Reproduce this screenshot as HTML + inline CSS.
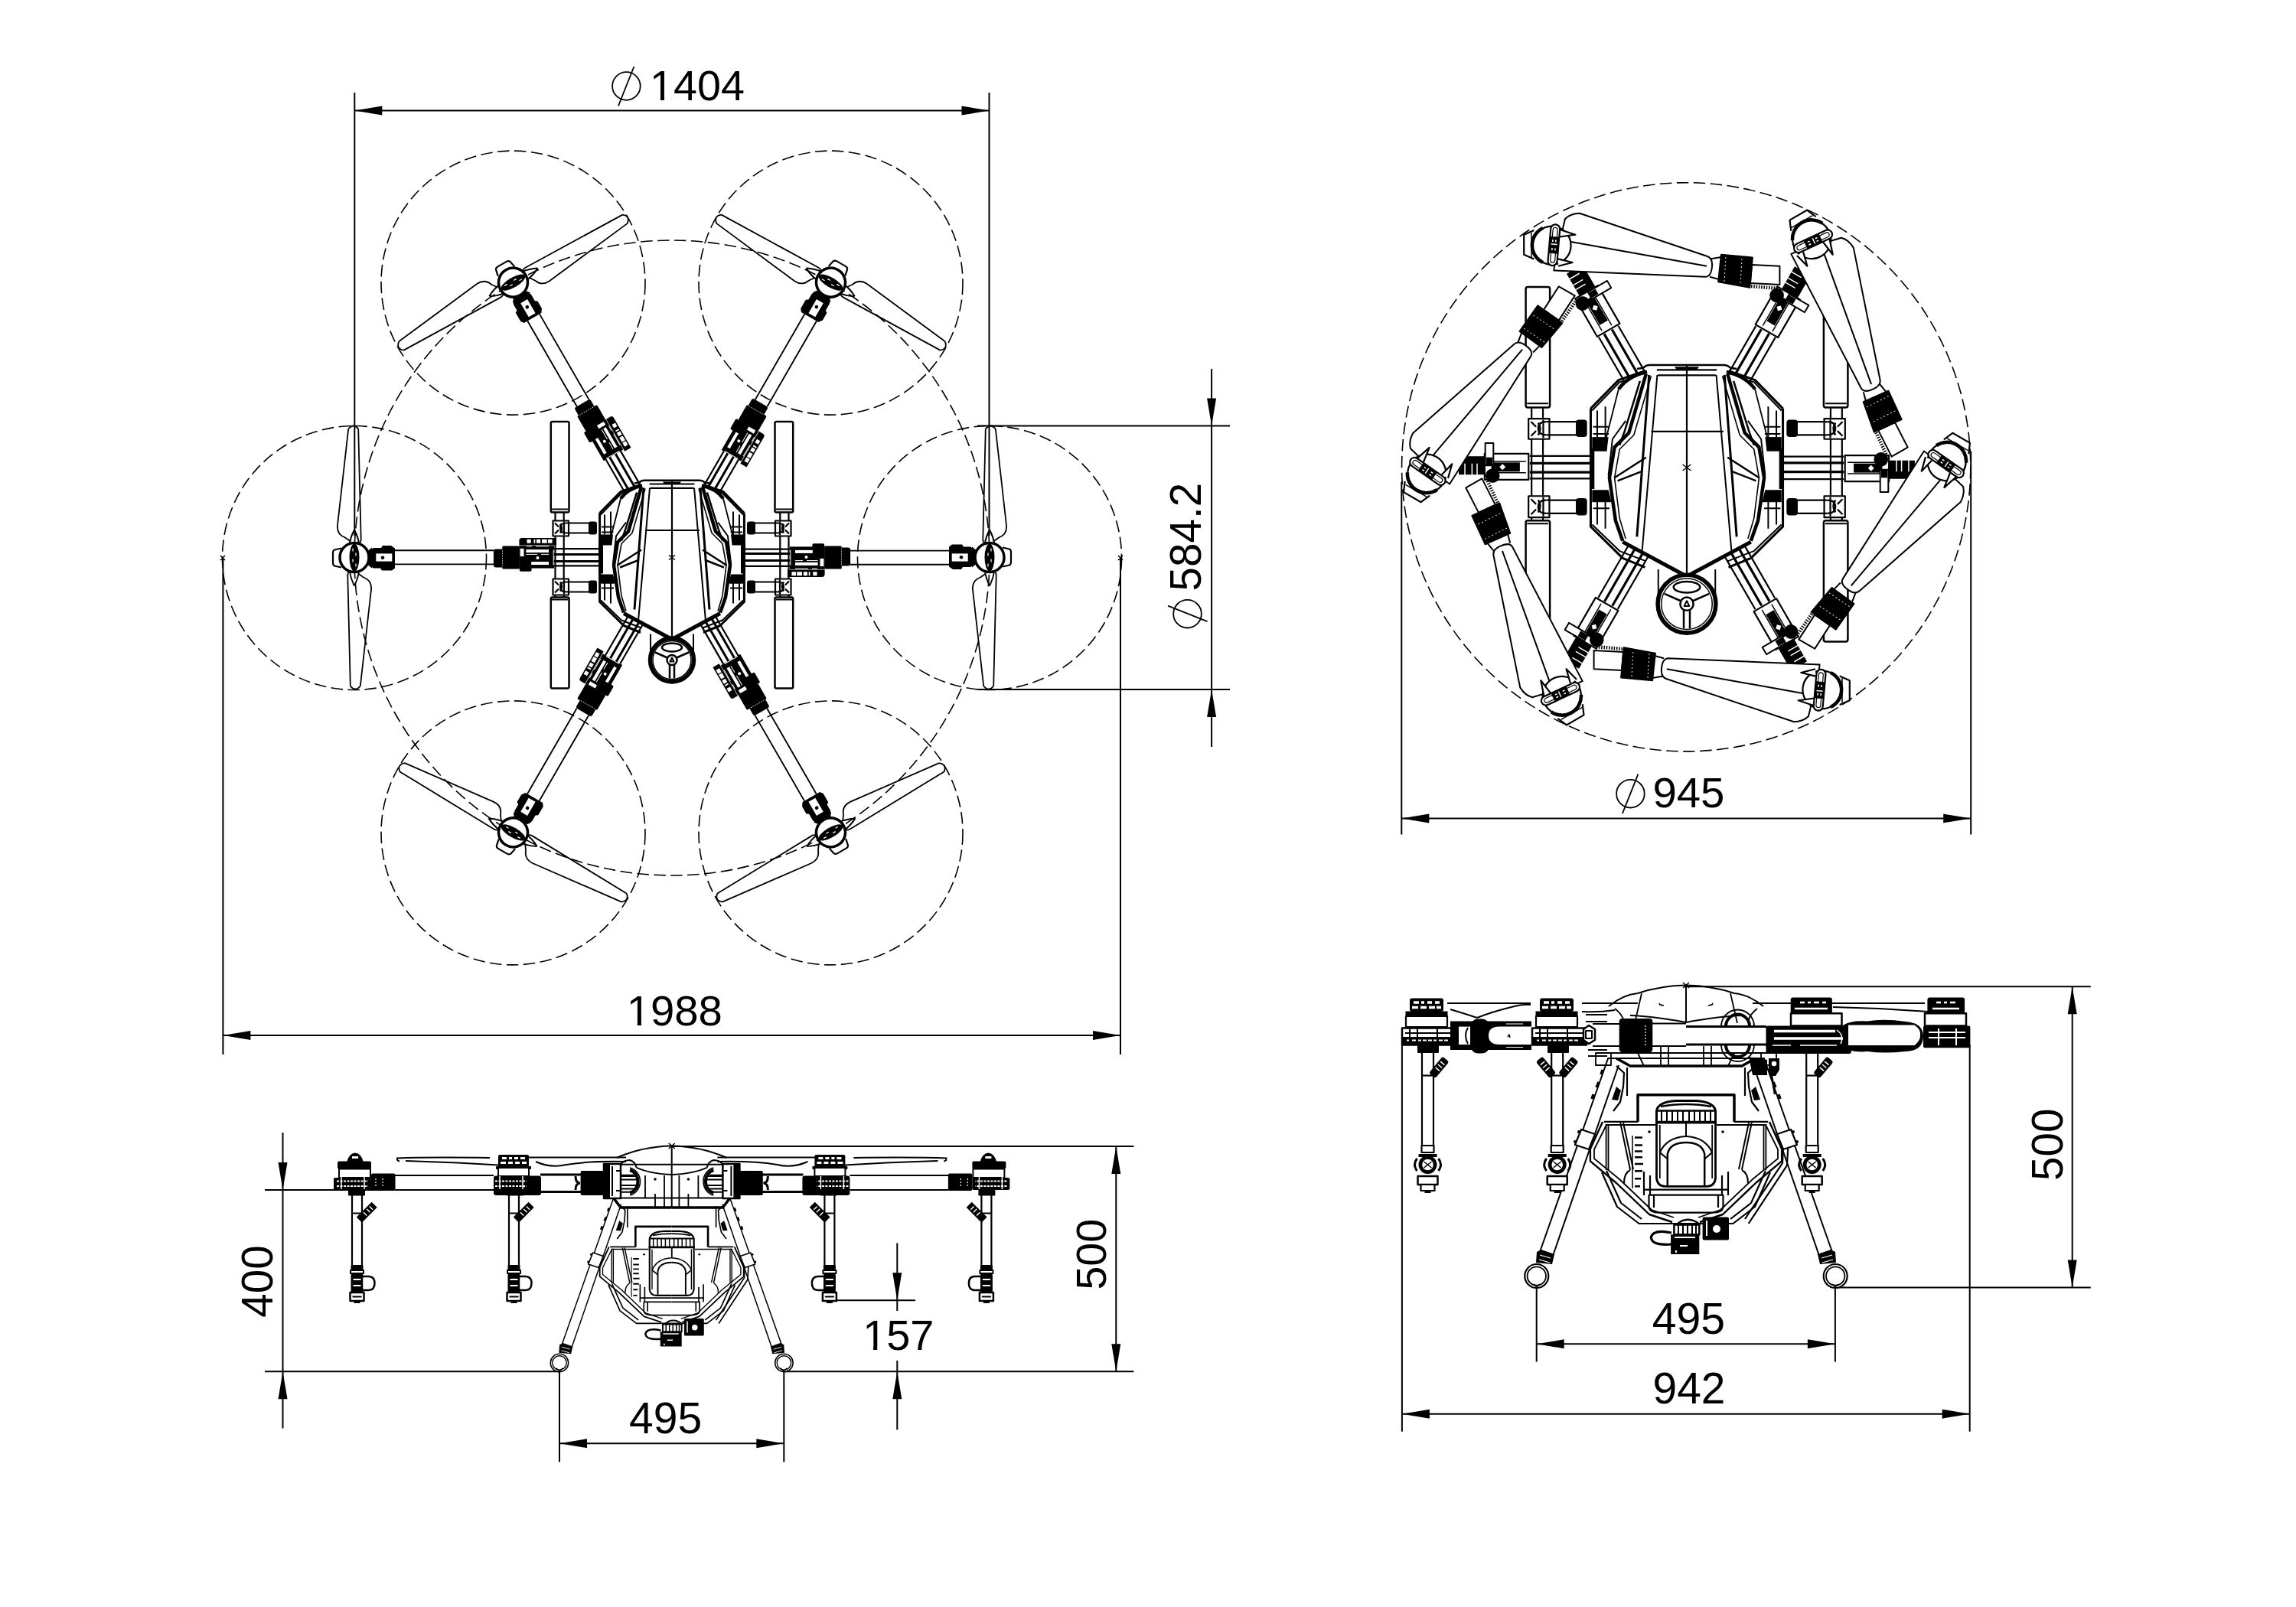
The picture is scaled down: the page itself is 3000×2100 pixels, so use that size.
<!DOCTYPE html>
<html><head><meta charset="utf-8"><style>
html,body{margin:0;padding:0;background:#fff;width:3000px;height:2100px;overflow:hidden}
svg{display:block}
</style></head><body>
<svg xmlns="http://www.w3.org/2000/svg" width="3000" height="2100" viewBox="0 0 3000 2100" font-family="Liberation Sans, sans-serif" stroke="#000" fill="none" stroke-linecap="butt" stroke-linejoin="round">
<rect x="0" y="0" width="3000" height="2100" fill="#fff" stroke="none"/>
<g fill="#000" stroke="none">
</g>
<line x1="463.3" y1="120.9" x2="463.3" y2="700.0" stroke-width="2"/>
<line x1="1292.5" y1="120.9" x2="1292.5" y2="700.0" stroke-width="2"/>
<line x1="463.3" y1="144.5" x2="1292.5" y2="144.5" stroke-width="2"/>
<polygon points="463.3,144.5 499.3,138.5 499.3,150.5" stroke="none" fill="#000"/>
<polygon points="1292.5,144.5 1256.5,150.5 1256.5,138.5" stroke="none" fill="#000"/>
<text fill="#000" stroke="none" x="849.0" y="130.7" font-size="55.7">1404</text><rect x="852.31" y="125.68" width="10.59" height="5.57" fill="#fff" stroke="none"/><rect x="867.96" y="125.68" width="9.75" height="5.57" fill="#fff" stroke="none"/>
<circle cx="818.4" cy="112.5" r="18.3" fill="none" stroke-width="1.8"/><line x1="828.4" y1="87.0" x2="807.9" y2="138.5" stroke-width="1.8"/>
<line x1="291.4" y1="729.0" x2="291.4" y2="1378.0" stroke-width="2"/>
<line x1="1464.0" y1="729.0" x2="1464.0" y2="1378.0" stroke-width="2"/>
<line x1="291.4" y1="1353.0" x2="1464.0" y2="1353.0" stroke-width="2"/>
<polygon points="291.4,1353.0 327.4,1347.0 327.4,1359.0" stroke="none" fill="#000"/>
<polygon points="1464.0,1353.0 1428.0,1359.0 1428.0,1347.0" stroke="none" fill="#000"/>
<text fill="#000" stroke="none" x="818.7" y="1340.0" font-size="56.3">1988</text><rect x="822.10" y="1334.92" width="10.70" height="5.63" fill="#fff" stroke="none"/><rect x="837.93" y="1334.92" width="9.86" height="5.63" fill="#fff" stroke="none"/>
<line x1="1277.0" y1="556.5" x2="1607.0" y2="556.5" stroke-width="2"/>
<line x1="1277.0" y1="901.0" x2="1607.0" y2="901.0" stroke-width="2"/>
<line x1="1583.1" y1="482.0" x2="1583.1" y2="976.0" stroke-width="2"/>
<polygon points="1583.1,556.5 1577.1,520.5 1589.1,520.5" stroke="none" fill="#000"/>
<polygon points="1583.1,901.0 1589.1,937.0 1577.1,937.0" stroke="none" fill="#000"/>
<text fill="#000" stroke="none" transform="translate(1569.2,772.4) rotate(-90)" x="0" y="0" font-size="56.6">584.2</text>
<circle cx="1551.5" cy="802.2" r="18.3" fill="none" stroke-width="1.8"/><line x1="1526.0" y1="791.7" x2="1577.5" y2="812.2" stroke-width="1.8"/>
<line x1="1831.3" y1="629.7" x2="1831.3" y2="1090.5" stroke-width="2"/>
<line x1="2575.2" y1="589.8" x2="2575.2" y2="1090.5" stroke-width="2"/>
<line x1="1831.3" y1="1069.5" x2="2575.2" y2="1069.5" stroke-width="2"/>
<polygon points="1831.3,1069.5 1867.3,1063.5 1867.3,1075.5" stroke="none" fill="#000"/>
<polygon points="2575.2,1069.5 2539.2,1075.5 2539.2,1063.5" stroke="none" fill="#000"/>
<text fill="#000" stroke="none" x="2159.4" y="1054.8" font-size="56.4">945</text>
<circle cx="2130.4" cy="1037.2" r="18.3" fill="none" stroke-width="1.8"/><line x1="2140.4" y1="1011.7" x2="2119.9" y2="1063.2" stroke-width="1.8"/>
<line x1="877.0" y1="1497.9" x2="1481.4" y2="1497.9" stroke-width="2"/>
<line x1="346.0" y1="1555.0" x2="512.0" y2="1555.0" stroke-width="2"/>
<line x1="346.0" y1="1792.2" x2="731.0" y2="1792.2" stroke-width="2"/>
<line x1="1024.3" y1="1792.2" x2="1481.4" y2="1792.2" stroke-width="2"/>
<line x1="369.5" y1="1480.0" x2="369.5" y2="1866.5" stroke-width="2"/>
<polygon points="369.5,1555.0 363.5,1519.0 375.5,1519.0" stroke="none" fill="#000"/>
<polygon points="369.5,1792.2 375.5,1828.2 363.5,1828.2" stroke="none" fill="#000"/>
<text fill="#000" stroke="none" transform="translate(355.5,1721.7) rotate(-90)" x="0" y="0" font-size="56.7">400</text>
<line x1="1458.3" y1="1497.9" x2="1458.3" y2="1792.2" stroke-width="2"/>
<polygon points="1458.3,1497.9 1464.3,1533.9 1452.3,1533.9" stroke="none" fill="#000"/>
<polygon points="1458.3,1792.2 1452.3,1756.2 1464.3,1756.2" stroke="none" fill="#000"/>
<text fill="#000" stroke="none" transform="translate(1445.4,1685.6) rotate(-90)" x="0" y="0" font-size="55.7">500</text>
<line x1="1084.0" y1="1699.2" x2="1196.0" y2="1699.2" stroke-width="2"/>
<line x1="1172.3" y1="1624.4" x2="1172.3" y2="1713.0" stroke-width="2"/>
<line x1="1172.3" y1="1778.0" x2="1172.3" y2="1868.3" stroke-width="2"/>
<polygon points="1172.3,1699.2 1166.3,1663.2 1178.3,1663.2" stroke="none" fill="#000"/>
<polygon points="1172.3,1792.2 1178.3,1828.2 1166.3,1828.2" stroke="none" fill="#000"/>
<text fill="#000" stroke="none" x="1127.2" y="1764.0" font-size="55.9">157</text><rect x="1130.51" y="1758.97" width="10.62" height="5.59" fill="#fff" stroke="none"/><rect x="1146.21" y="1758.97" width="9.78" height="5.59" fill="#fff" stroke="none"/>
<line x1="731.0" y1="1792.8" x2="731.0" y2="1910.6" stroke-width="2"/>
<line x1="1024.3" y1="1792.8" x2="1024.3" y2="1910.6" stroke-width="2"/>
<line x1="731.0" y1="1886.2" x2="1024.3" y2="1886.2" stroke-width="2"/>
<polygon points="731.0,1886.2 767.0,1880.2 767.0,1892.2" stroke="none" fill="#000"/>
<polygon points="1024.3,1886.2 988.3,1892.2 988.3,1880.2" stroke="none" fill="#000"/>
<text fill="#000" stroke="none" x="822.1" y="1872.7" font-size="57.0">495</text>
<line x1="2201.0" y1="1289.3" x2="2731.8" y2="1289.3" stroke-width="2"/>
<line x1="2397.9" y1="1682.5" x2="2731.8" y2="1682.5" stroke-width="2"/>
<line x1="2707.7" y1="1289.3" x2="2707.7" y2="1682.5" stroke-width="2"/>
<polygon points="2707.7,1289.3 2713.7,1325.3 2701.7,1325.3" stroke="none" fill="#000"/>
<polygon points="2707.7,1682.5 2701.7,1646.5 2713.7,1646.5" stroke="none" fill="#000"/>
<text fill="#000" stroke="none" transform="translate(2694.6,1542.9) rotate(-90)" x="0" y="0" font-size="56.5">500</text>
<line x1="2007.7" y1="1668.0" x2="2007.7" y2="1779.6" stroke-width="2"/>
<line x1="2397.9" y1="1668.0" x2="2397.9" y2="1779.6" stroke-width="2"/>
<line x1="2007.7" y1="1756.3" x2="2397.9" y2="1756.3" stroke-width="2"/>
<polygon points="2007.7,1756.3 2043.7,1750.3 2043.7,1762.3" stroke="none" fill="#000"/>
<polygon points="2397.9,1756.3 2361.9,1762.3 2361.9,1750.3" stroke="none" fill="#000"/>
<text fill="#000" stroke="none" x="2158.8" y="1742.9" font-size="57.1">495</text>
<line x1="1831.9" y1="1365.0" x2="1831.9" y2="1870.7" stroke-width="2"/>
<line x1="2573.7" y1="1365.0" x2="2573.7" y2="1870.7" stroke-width="2"/>
<line x1="1831.9" y1="1847.7" x2="2573.7" y2="1847.7" stroke-width="2"/>
<polygon points="1831.9,1847.7 1867.9,1841.7 1867.9,1853.7" stroke="none" fill="#000"/>
<polygon points="2573.7,1847.7 2537.7,1853.7 2537.7,1841.7" stroke="none" fill="#000"/>
<text fill="#000" stroke="none" x="2159.5" y="1833.9" font-size="56.9">942</text>
<circle cx="878.0" cy="729.0" r="415.0" stroke-dasharray="15.5 6.5" fill="none" stroke-width="1.6"/>
<circle cx="463.0" cy="729.0" r="172.5" stroke-dasharray="15.5 6.5" fill="none" stroke-width="1.6"/>
<circle cx="670.5" cy="369.6" r="172.5" stroke-dasharray="15.5 6.5" fill="none" stroke-width="1.6"/>
<circle cx="1085.5" cy="369.6" r="172.5" stroke-dasharray="15.5 6.5" fill="none" stroke-width="1.6"/>
<circle cx="1293.0" cy="729.0" r="172.5" stroke-dasharray="15.5 6.5" fill="none" stroke-width="1.6"/>
<circle cx="1085.5" cy="1088.4" r="172.5" stroke-dasharray="15.5 6.5" fill="none" stroke-width="1.6"/>
<circle cx="670.5" cy="1088.4" r="172.5" stroke-dasharray="15.5 6.5" fill="none" stroke-width="1.6"/>
<circle cx="2203.2" cy="610.3" r="371.6" stroke-dasharray="15.5 6.5" fill="none" stroke-width="1.6"/>
<g transform="translate(878.0,728.5)"><g transform="scale(-1,1)">
<rect x="-158.2" y="-177.5" width="23.7" height="118.5" rx="2" stroke-width="2.50"/>
<rect x="-158.2" y="52" width="23.7" height="119" rx="2" stroke-width="2.50"/>
<path d="M -157,-63 H -136 M -157,55 H -136" stroke-width="2.00"/>
<path d="M -152.5,-59 V 52 M -141.3,-59 V 52" stroke-width="2.20"/>
<rect x="-155.5" y="-48" width="20.5" height="20" fill="#fff" stroke-width="2.20"/>
<rect x="-155.5" y="28" width="20.5" height="21" fill="#fff" stroke-width="2.20"/>
<path d="M -153,-45 L -148,-40 M -153,-31 L -148,-36 M -153,31 L -148,36 M -153,46 L -148,41 M -141,-47 V -29 M -141,29 V 48" stroke-width="2.20"/>
<path d="M -146,-44 Q -142,-38 -146,-32 M -146,32 Q -142,38 -146,44" stroke-width="2.50"/>
<path d="M -138,-45 H -100 M -138,-32 H -100 M -138,32 H -100 M -138,45 H -100" stroke-width="2.20"/>
<path d="M -146,-38.5 Q -146,-45 -138,-45 M -146,38.5 Q -146,45 -138,45 M -146,-38.5 Q -146,-32 -138,-32 M -146,38.5 Q -146,32 -138,32" stroke-width="2.20"/>
<rect x="-109" y="-47" width="11" height="17" rx="3" fill="#000" stroke="none"/>
<rect x="-109" y="30" width="11" height="17" rx="3" fill="#000" stroke="none"/>
</g>
<g transform="scale(1,1)">
<rect x="-158.2" y="-177.5" width="23.7" height="118.5" rx="2" stroke-width="2.50"/>
<rect x="-158.2" y="52" width="23.7" height="119" rx="2" stroke-width="2.50"/>
<path d="M -157,-63 H -136 M -157,55 H -136" stroke-width="2.00"/>
<path d="M -152.5,-59 V 52 M -141.3,-59 V 52" stroke-width="2.20"/>
<rect x="-155.5" y="-48" width="20.5" height="20" fill="#fff" stroke-width="2.20"/>
<rect x="-155.5" y="28" width="20.5" height="21" fill="#fff" stroke-width="2.20"/>
<path d="M -153,-45 L -148,-40 M -153,-31 L -148,-36 M -153,31 L -148,36 M -153,46 L -148,41 M -141,-47 V -29 M -141,29 V 48" stroke-width="2.20"/>
<path d="M -146,-44 Q -142,-38 -146,-32 M -146,32 Q -142,38 -146,44" stroke-width="2.50"/>
<path d="M -138,-45 H -100 M -138,-32 H -100 M -138,32 H -100 M -138,45 H -100" stroke-width="2.20"/>
<path d="M -146,-38.5 Q -146,-45 -138,-45 M -146,38.5 Q -146,45 -138,45 M -146,-38.5 Q -146,-32 -138,-32 M -146,38.5 Q -146,32 -138,32" stroke-width="2.20"/>
<rect x="-109" y="-47" width="11" height="17" rx="3" fill="#000" stroke="none"/>
<rect x="-109" y="30" width="11" height="17" rx="3" fill="#000" stroke="none"/>
</g></g>
<g transform="translate(878.0,728.5) rotate(0)">
<path d="M -432,-12 L -441,-10 Q -443,-9 -443,-6 V 7 Q -443,10 -441,11 L -432,13" stroke-width="2.2" fill="#fff"/>
<circle cx="-415" cy="0" r="19" stroke-width="3.5" fill="none"/>
<path d="M -397,-9 L -392,-13 V 14 L -397,10 Z" fill="#000" stroke="none"/>
<path d="M -396,-9 L -390,-12.5 L -380,-12.5 L -378,-15.5 L -367,-15.5 L -362,-12 L -362,14 L -366,17 L -379,17 L -381,14 L -390,14 L -396,10 Z" fill="#000" stroke="none"/>
<rect x="-386.7" y="-5.1" width="21" height="10.2" fill="#fff" stroke="none"/>
<circle cx="-378" cy="0.2" r="2.3" fill="#000" stroke="none"/>
<path d="M -362,-9.2 H -233 M -362,8.9 H -233" stroke-width="1.9"/>
<path d="M -233.1,-8 Q -233.1,-10.9 -230,-10.9 H -221.8 V 13 H -230 Q -233.1,13 -233.1,10 Z" fill="#000" stroke="none"/>
<rect x="-221.8" y="-14.9" width="22.6" height="29.9" rx="1.5" fill="#000" stroke="none"/>
<path d="M -221.5,-9 V 11" stroke="#fff" stroke-width="0.8" stroke-dasharray="1.2 2"/>
<rect x="-199.6" y="-15.4" width="45.6" height="29.5" fill="#000" stroke="none"/>
<rect x="-199.2" y="12" width="15.8" height="6.3" rx="2" fill="#000" stroke="none"/>
<rect x="-198.4" y="-11.6" width="4.9" height="10.2" fill="#fff" stroke="none"/>
<rect x="-190.6" y="-10.4" width="29.6" height="4" fill="#fff" stroke="none"/>
<rect x="-183.8" y="5.6" width="22.8" height="4" fill="#fff" stroke="none"/>
<path d="M -190.6,-4.1 H -176 M -171,-4.1 H -161 M -190,-14.6 H -183 M -178,-14.6 H -161" stroke="#fff" stroke-width="1"/>
<circle cx="-175.5" cy="0.5" r="2" fill="#fff" stroke="none"/>
<path d="M -154.8,-10 V 10" stroke="#fff" stroke-width="1.1"/>
<path d="M -199.6,-16 V -22 Q -199.6,-25.4 -196,-25.4 H -151 V -16 Z" fill="#000" stroke="none"/>
<path d="M -189.5,-21.3 h5.2 M -180.5,-21.3 h1.8 M -177,-21.3 h5.2 M -170,-21.3 h6.8 M -162,-21.3 h5.6" stroke="#fff" stroke-width="5"/>
<path d="M -154.3,-11.4 H -96 M -154.3,10.8 H -96" stroke-width="2.2"/>
<path d="M -154.3,-3.9 H -96 M -154.3,5 H -96" stroke-width="3"/>
</g>
<g transform="translate(878.0,728.5) rotate(0)">
<g transform="translate(-415,0)" stroke-width="1.8"><path d="M 5.2,-168 L 8.7,-24 Q 9,-19 4,-17 M -7.8,-168 L -22,-42 Q -23,-30 -12,-26 L -5,-21 M -7.8,-168 Q -1,-176 5.2,-168 M -5.2,168 L -8.7,24 Q -9,19 -4,17 M 7.8,168 L 22,42 Q 23,30 12,26 L 5,21 M 7.8,168 Q 1,176 -5.2,168" stroke-width="1.8"/><path d="M 0,-36 Q 5,-27 6,-18 M 0,-36 Q -5,-27 -6,-18 M 0,37 Q 5,27 6,18 M 0,37 Q -5,27 -6,18" stroke-width="2"/><ellipse cx="0" cy="0" rx="6.5" ry="18" fill="#000" stroke="none"/><path d="M -2,-12 v4 M 2,-6 v4 M -2,2 v4 M 2,8 v4" stroke="#fff" stroke-width="1.2"/></g>
</g>
<g transform="translate(878.0,728.5) rotate(60)">
<path d="M -432,-12 L -441,-10 Q -443,-9 -443,-6 V 7 Q -443,10 -441,11 L -432,13" stroke-width="2.2" fill="#fff"/>
<circle cx="-415" cy="0" r="19" stroke-width="3.5" fill="none"/>
<path d="M -397,-9 L -392,-13 V 14 L -397,10 Z" fill="#000" stroke="none"/>
<path d="M -396,-9 L -390,-12.5 L -380,-12.5 L -378,-15.5 L -367,-15.5 L -362,-12 L -362,14 L -366,17 L -379,17 L -381,14 L -390,14 L -396,10 Z" fill="#000" stroke="none"/>
<rect x="-386.7" y="-5.1" width="21" height="10.2" fill="#fff" stroke="none"/>
<circle cx="-378" cy="0.2" r="2.3" fill="#000" stroke="none"/>
<path d="M -362,-9.2 H -233 M -362,8.9 H -233" stroke-width="1.9"/>
<path d="M -233.1,-8 Q -233.1,-10.9 -230,-10.9 H -221.8 V 13 H -230 Q -233.1,13 -233.1,10 Z" fill="#000" stroke="none"/>
<rect x="-221.8" y="-14.9" width="22.6" height="29.9" rx="1.5" fill="#000" stroke="none"/>
<path d="M -221.5,-9 V 11" stroke="#fff" stroke-width="0.8" stroke-dasharray="1.2 2"/>
<rect x="-199.6" y="-15.4" width="45.6" height="29.5" fill="#000" stroke="none"/>
<rect x="-199.2" y="12" width="15.8" height="6.3" rx="2" fill="#000" stroke="none"/>
<rect x="-198.4" y="-11.6" width="4.9" height="10.2" fill="#fff" stroke="none"/>
<rect x="-190.6" y="-10.4" width="29.6" height="4" fill="#fff" stroke="none"/>
<rect x="-183.8" y="5.6" width="22.8" height="4" fill="#fff" stroke="none"/>
<path d="M -190.6,-4.1 H -176 M -171,-4.1 H -161 M -190,-14.6 H -183 M -178,-14.6 H -161" stroke="#fff" stroke-width="1"/>
<circle cx="-175.5" cy="0.5" r="2" fill="#fff" stroke="none"/>
<path d="M -154.8,-10 V 10" stroke="#fff" stroke-width="1.1"/>
<path d="M -199.6,-16 V -22 Q -199.6,-25.4 -196,-25.4 H -151 V -16 Z" fill="#000" stroke="none"/>
<path d="M -189.5,-21.3 h5.2 M -180.5,-21.3 h1.8 M -177,-21.3 h5.2 M -170,-21.3 h6.8 M -162,-21.3 h5.6" stroke="#fff" stroke-width="5"/>
<path d="M -154.3,-11.4 H -96 M -154.3,10.8 H -96" stroke-width="2.2"/>
<path d="M -154.3,-3.9 H -96 M -154.3,5 H -96" stroke-width="3"/>
</g>
<g transform="translate(878.0,728.5) rotate(60)">
<g transform="translate(-415,0) scale(1,-1)" stroke-width="1.8"><path d="M 5.2,-168 L 8.7,-24 Q 9,-19 4,-17 M -7.8,-168 L -22,-42 Q -23,-30 -12,-26 L -5,-21 M -7.8,-168 Q -1,-176 5.2,-168 M -5.2,168 L -8.7,24 Q -9,19 -4,17 M 7.8,168 L 22,42 Q 23,30 12,26 L 5,21 M 7.8,168 Q 1,176 -5.2,168" stroke-width="1.8"/><path d="M 0,-36 Q 5,-27 6,-18 M 0,-36 Q -5,-27 -6,-18 M 0,37 Q 5,27 6,18 M 0,37 Q -5,27 -6,18" stroke-width="2"/><ellipse cx="0" cy="0" rx="6.5" ry="18" fill="#000" stroke="none"/><path d="M -2,-12 v4 M 2,-6 v4 M -2,2 v4 M 2,8 v4" stroke="#fff" stroke-width="1.2"/></g>
</g>
<g transform="translate(878.0,728.5) rotate(120)">
<path d="M -432,-12 L -441,-10 Q -443,-9 -443,-6 V 7 Q -443,10 -441,11 L -432,13" stroke-width="2.2" fill="#fff"/>
<circle cx="-415" cy="0" r="19" stroke-width="3.5" fill="none"/>
<path d="M -397,-9 L -392,-13 V 14 L -397,10 Z" fill="#000" stroke="none"/>
<path d="M -396,-9 L -390,-12.5 L -380,-12.5 L -378,-15.5 L -367,-15.5 L -362,-12 L -362,14 L -366,17 L -379,17 L -381,14 L -390,14 L -396,10 Z" fill="#000" stroke="none"/>
<rect x="-386.7" y="-5.1" width="21" height="10.2" fill="#fff" stroke="none"/>
<circle cx="-378" cy="0.2" r="2.3" fill="#000" stroke="none"/>
<path d="M -362,-9.2 H -233 M -362,8.9 H -233" stroke-width="1.9"/>
<path d="M -233.1,-8 Q -233.1,-10.9 -230,-10.9 H -221.8 V 13 H -230 Q -233.1,13 -233.1,10 Z" fill="#000" stroke="none"/>
<rect x="-221.8" y="-14.9" width="22.6" height="29.9" rx="1.5" fill="#000" stroke="none"/>
<path d="M -221.5,-9 V 11" stroke="#fff" stroke-width="0.8" stroke-dasharray="1.2 2"/>
<rect x="-199.6" y="-15.4" width="45.6" height="29.5" fill="#000" stroke="none"/>
<rect x="-199.2" y="12" width="15.8" height="6.3" rx="2" fill="#000" stroke="none"/>
<rect x="-198.4" y="-11.6" width="4.9" height="10.2" fill="#fff" stroke="none"/>
<rect x="-190.6" y="-10.4" width="29.6" height="4" fill="#fff" stroke="none"/>
<rect x="-183.8" y="5.6" width="22.8" height="4" fill="#fff" stroke="none"/>
<path d="M -190.6,-4.1 H -176 M -171,-4.1 H -161 M -190,-14.6 H -183 M -178,-14.6 H -161" stroke="#fff" stroke-width="1"/>
<circle cx="-175.5" cy="0.5" r="2" fill="#fff" stroke="none"/>
<path d="M -154.8,-10 V 10" stroke="#fff" stroke-width="1.1"/>
<path d="M -199.6,-16 V -22 Q -199.6,-25.4 -196,-25.4 H -151 V -16 Z" fill="#000" stroke="none"/>
<path d="M -189.5,-21.3 h5.2 M -180.5,-21.3 h1.8 M -177,-21.3 h5.2 M -170,-21.3 h6.8 M -162,-21.3 h5.6" stroke="#fff" stroke-width="5"/>
<path d="M -154.3,-11.4 H -96 M -154.3,10.8 H -96" stroke-width="2.2"/>
<path d="M -154.3,-3.9 H -96 M -154.3,5 H -96" stroke-width="3"/>
</g>
<g transform="translate(878.0,728.5) rotate(120)">
<g transform="translate(-415,0)" stroke-width="1.8"><path d="M 5.2,-168 L 8.7,-24 Q 9,-19 4,-17 M -7.8,-168 L -22,-42 Q -23,-30 -12,-26 L -5,-21 M -7.8,-168 Q -1,-176 5.2,-168 M -5.2,168 L -8.7,24 Q -9,19 -4,17 M 7.8,168 L 22,42 Q 23,30 12,26 L 5,21 M 7.8,168 Q 1,176 -5.2,168" stroke-width="1.8"/><path d="M 0,-36 Q 5,-27 6,-18 M 0,-36 Q -5,-27 -6,-18 M 0,37 Q 5,27 6,18 M 0,37 Q -5,27 -6,18" stroke-width="2"/><ellipse cx="0" cy="0" rx="6.5" ry="18" fill="#000" stroke="none"/><path d="M -2,-12 v4 M 2,-6 v4 M -2,2 v4 M 2,8 v4" stroke="#fff" stroke-width="1.2"/></g>
</g>
<g transform="translate(878.0,728.5) rotate(180)">
<path d="M -432,-12 L -441,-10 Q -443,-9 -443,-6 V 7 Q -443,10 -441,11 L -432,13" stroke-width="2.2" fill="#fff"/>
<circle cx="-415" cy="0" r="19" stroke-width="3.5" fill="none"/>
<path d="M -397,-9 L -392,-13 V 14 L -397,10 Z" fill="#000" stroke="none"/>
<path d="M -396,-9 L -390,-12.5 L -380,-12.5 L -378,-15.5 L -367,-15.5 L -362,-12 L -362,14 L -366,17 L -379,17 L -381,14 L -390,14 L -396,10 Z" fill="#000" stroke="none"/>
<rect x="-386.7" y="-5.1" width="21" height="10.2" fill="#fff" stroke="none"/>
<circle cx="-378" cy="0.2" r="2.3" fill="#000" stroke="none"/>
<path d="M -362,-9.2 H -233 M -362,8.9 H -233" stroke-width="1.9"/>
<path d="M -233.1,-8 Q -233.1,-10.9 -230,-10.9 H -221.8 V 13 H -230 Q -233.1,13 -233.1,10 Z" fill="#000" stroke="none"/>
<rect x="-221.8" y="-14.9" width="22.6" height="29.9" rx="1.5" fill="#000" stroke="none"/>
<path d="M -221.5,-9 V 11" stroke="#fff" stroke-width="0.8" stroke-dasharray="1.2 2"/>
<rect x="-199.6" y="-15.4" width="45.6" height="29.5" fill="#000" stroke="none"/>
<rect x="-199.2" y="12" width="15.8" height="6.3" rx="2" fill="#000" stroke="none"/>
<rect x="-198.4" y="-11.6" width="4.9" height="10.2" fill="#fff" stroke="none"/>
<rect x="-190.6" y="-10.4" width="29.6" height="4" fill="#fff" stroke="none"/>
<rect x="-183.8" y="5.6" width="22.8" height="4" fill="#fff" stroke="none"/>
<path d="M -190.6,-4.1 H -176 M -171,-4.1 H -161 M -190,-14.6 H -183 M -178,-14.6 H -161" stroke="#fff" stroke-width="1"/>
<circle cx="-175.5" cy="0.5" r="2" fill="#fff" stroke="none"/>
<path d="M -154.8,-10 V 10" stroke="#fff" stroke-width="1.1"/>
<path d="M -199.6,-16 V -22 Q -199.6,-25.4 -196,-25.4 H -151 V -16 Z" fill="#000" stroke="none"/>
<path d="M -189.5,-21.3 h5.2 M -180.5,-21.3 h1.8 M -177,-21.3 h5.2 M -170,-21.3 h6.8 M -162,-21.3 h5.6" stroke="#fff" stroke-width="5"/>
<path d="M -154.3,-11.4 H -96 M -154.3,10.8 H -96" stroke-width="2.2"/>
<path d="M -154.3,-3.9 H -96 M -154.3,5 H -96" stroke-width="3"/>
</g>
<g transform="translate(878.0,728.5) rotate(180)">
<g transform="translate(-415,0) scale(1,-1)" stroke-width="1.8"><path d="M 5.2,-168 L 8.7,-24 Q 9,-19 4,-17 M -7.8,-168 L -22,-42 Q -23,-30 -12,-26 L -5,-21 M -7.8,-168 Q -1,-176 5.2,-168 M -5.2,168 L -8.7,24 Q -9,19 -4,17 M 7.8,168 L 22,42 Q 23,30 12,26 L 5,21 M 7.8,168 Q 1,176 -5.2,168" stroke-width="1.8"/><path d="M 0,-36 Q 5,-27 6,-18 M 0,-36 Q -5,-27 -6,-18 M 0,37 Q 5,27 6,18 M 0,37 Q -5,27 -6,18" stroke-width="2"/><ellipse cx="0" cy="0" rx="6.5" ry="18" fill="#000" stroke="none"/><path d="M -2,-12 v4 M 2,-6 v4 M -2,2 v4 M 2,8 v4" stroke="#fff" stroke-width="1.2"/></g>
</g>
<g transform="translate(878.0,728.5) rotate(240)">
<path d="M -432,-12 L -441,-10 Q -443,-9 -443,-6 V 7 Q -443,10 -441,11 L -432,13" stroke-width="2.2" fill="#fff"/>
<circle cx="-415" cy="0" r="19" stroke-width="3.5" fill="none"/>
<path d="M -397,-9 L -392,-13 V 14 L -397,10 Z" fill="#000" stroke="none"/>
<path d="M -396,-9 L -390,-12.5 L -380,-12.5 L -378,-15.5 L -367,-15.5 L -362,-12 L -362,14 L -366,17 L -379,17 L -381,14 L -390,14 L -396,10 Z" fill="#000" stroke="none"/>
<rect x="-386.7" y="-5.1" width="21" height="10.2" fill="#fff" stroke="none"/>
<circle cx="-378" cy="0.2" r="2.3" fill="#000" stroke="none"/>
<path d="M -362,-9.2 H -233 M -362,8.9 H -233" stroke-width="1.9"/>
<path d="M -233.1,-8 Q -233.1,-10.9 -230,-10.9 H -221.8 V 13 H -230 Q -233.1,13 -233.1,10 Z" fill="#000" stroke="none"/>
<rect x="-221.8" y="-14.9" width="22.6" height="29.9" rx="1.5" fill="#000" stroke="none"/>
<path d="M -221.5,-9 V 11" stroke="#fff" stroke-width="0.8" stroke-dasharray="1.2 2"/>
<rect x="-199.6" y="-15.4" width="45.6" height="29.5" fill="#000" stroke="none"/>
<rect x="-199.2" y="12" width="15.8" height="6.3" rx="2" fill="#000" stroke="none"/>
<rect x="-198.4" y="-11.6" width="4.9" height="10.2" fill="#fff" stroke="none"/>
<rect x="-190.6" y="-10.4" width="29.6" height="4" fill="#fff" stroke="none"/>
<rect x="-183.8" y="5.6" width="22.8" height="4" fill="#fff" stroke="none"/>
<path d="M -190.6,-4.1 H -176 M -171,-4.1 H -161 M -190,-14.6 H -183 M -178,-14.6 H -161" stroke="#fff" stroke-width="1"/>
<circle cx="-175.5" cy="0.5" r="2" fill="#fff" stroke="none"/>
<path d="M -154.8,-10 V 10" stroke="#fff" stroke-width="1.1"/>
<path d="M -199.6,-16 V -22 Q -199.6,-25.4 -196,-25.4 H -151 V -16 Z" fill="#000" stroke="none"/>
<path d="M -189.5,-21.3 h5.2 M -180.5,-21.3 h1.8 M -177,-21.3 h5.2 M -170,-21.3 h6.8 M -162,-21.3 h5.6" stroke="#fff" stroke-width="5"/>
<path d="M -154.3,-11.4 H -96 M -154.3,10.8 H -96" stroke-width="2.2"/>
<path d="M -154.3,-3.9 H -96 M -154.3,5 H -96" stroke-width="3"/>
</g>
<g transform="translate(878.0,728.5) rotate(240)">
<g transform="translate(-415,0)" stroke-width="1.8"><path d="M 5.2,-168 L 8.7,-24 Q 9,-19 4,-17 M -7.8,-168 L -22,-42 Q -23,-30 -12,-26 L -5,-21 M -7.8,-168 Q -1,-176 5.2,-168 M -5.2,168 L -8.7,24 Q -9,19 -4,17 M 7.8,168 L 22,42 Q 23,30 12,26 L 5,21 M 7.8,168 Q 1,176 -5.2,168" stroke-width="1.8"/><path d="M 0,-36 Q 5,-27 6,-18 M 0,-36 Q -5,-27 -6,-18 M 0,37 Q 5,27 6,18 M 0,37 Q -5,27 -6,18" stroke-width="2"/><ellipse cx="0" cy="0" rx="6.5" ry="18" fill="#000" stroke="none"/><path d="M -2,-12 v4 M 2,-6 v4 M -2,2 v4 M 2,8 v4" stroke="#fff" stroke-width="1.2"/></g>
</g>
<g transform="translate(878.0,728.5) rotate(300)">
<path d="M -432,-12 L -441,-10 Q -443,-9 -443,-6 V 7 Q -443,10 -441,11 L -432,13" stroke-width="2.2" fill="#fff"/>
<circle cx="-415" cy="0" r="19" stroke-width="3.5" fill="none"/>
<path d="M -397,-9 L -392,-13 V 14 L -397,10 Z" fill="#000" stroke="none"/>
<path d="M -396,-9 L -390,-12.5 L -380,-12.5 L -378,-15.5 L -367,-15.5 L -362,-12 L -362,14 L -366,17 L -379,17 L -381,14 L -390,14 L -396,10 Z" fill="#000" stroke="none"/>
<rect x="-386.7" y="-5.1" width="21" height="10.2" fill="#fff" stroke="none"/>
<circle cx="-378" cy="0.2" r="2.3" fill="#000" stroke="none"/>
<path d="M -362,-9.2 H -233 M -362,8.9 H -233" stroke-width="1.9"/>
<path d="M -233.1,-8 Q -233.1,-10.9 -230,-10.9 H -221.8 V 13 H -230 Q -233.1,13 -233.1,10 Z" fill="#000" stroke="none"/>
<rect x="-221.8" y="-14.9" width="22.6" height="29.9" rx="1.5" fill="#000" stroke="none"/>
<path d="M -221.5,-9 V 11" stroke="#fff" stroke-width="0.8" stroke-dasharray="1.2 2"/>
<rect x="-199.6" y="-15.4" width="45.6" height="29.5" fill="#000" stroke="none"/>
<rect x="-199.2" y="12" width="15.8" height="6.3" rx="2" fill="#000" stroke="none"/>
<rect x="-198.4" y="-11.6" width="4.9" height="10.2" fill="#fff" stroke="none"/>
<rect x="-190.6" y="-10.4" width="29.6" height="4" fill="#fff" stroke="none"/>
<rect x="-183.8" y="5.6" width="22.8" height="4" fill="#fff" stroke="none"/>
<path d="M -190.6,-4.1 H -176 M -171,-4.1 H -161 M -190,-14.6 H -183 M -178,-14.6 H -161" stroke="#fff" stroke-width="1"/>
<circle cx="-175.5" cy="0.5" r="2" fill="#fff" stroke="none"/>
<path d="M -154.8,-10 V 10" stroke="#fff" stroke-width="1.1"/>
<path d="M -199.6,-16 V -22 Q -199.6,-25.4 -196,-25.4 H -151 V -16 Z" fill="#000" stroke="none"/>
<path d="M -189.5,-21.3 h5.2 M -180.5,-21.3 h1.8 M -177,-21.3 h5.2 M -170,-21.3 h6.8 M -162,-21.3 h5.6" stroke="#fff" stroke-width="5"/>
<path d="M -154.3,-11.4 H -96 M -154.3,10.8 H -96" stroke-width="2.2"/>
<path d="M -154.3,-3.9 H -96 M -154.3,5 H -96" stroke-width="3"/>
</g>
<g transform="translate(878.0,728.5) rotate(300)">
<g transform="translate(-415,0) scale(1,-1)" stroke-width="1.8"><path d="M 5.2,-168 L 8.7,-24 Q 9,-19 4,-17 M -7.8,-168 L -22,-42 Q -23,-30 -12,-26 L -5,-21 M -7.8,-168 Q -1,-176 5.2,-168 M -5.2,168 L -8.7,24 Q -9,19 -4,17 M 7.8,168 L 22,42 Q 23,30 12,26 L 5,21 M 7.8,168 Q 1,176 -5.2,168" stroke-width="1.8"/><path d="M 0,-36 Q 5,-27 6,-18 M 0,-36 Q -5,-27 -6,-18 M 0,37 Q 5,27 6,18 M 0,37 Q -5,27 -6,18" stroke-width="2"/><ellipse cx="0" cy="0" rx="6.5" ry="18" fill="#000" stroke="none"/><path d="M -2,-12 v4 M 2,-6 v4 M -2,2 v4 M 2,8 v4" stroke="#fff" stroke-width="1.2"/></g>
</g>
<g transform="translate(878.0,728.5)"><path d="M -94.4,-58 L -67,-86 L -41,-95 M -94.4,-58 V 58 L -63,89 L -41,98 M 94.4,-58 L 67,-86 L 41,-95 M 94.4,-58 V 58 L 63,89 L 41,98" stroke-width="3.00"/>
<path d="M -93,-19 V 21 M 93,-19 V 21" stroke-width="6.00"/>
<g transform="scale(-1,1)">
<path d="M -93,-56 L -66,-84 L -40,-90 M -92,-40 H -76 M -92,-33 H -76 M -88,-56 V -30 M -80,-60 V -28" stroke-width="2.00"/>
<path d="M -93,56 L -66,82 L -40,92 M -92,40 H -76 M -92,33 H -76 M -88,56 V 30 M -80,60 V 28" stroke-width="2.00"/>
<path d="M -93,-30 L -70,-30 L -70,-16 L -93,-16 Z" fill="#000" stroke="none"/>
<path d="M -93,22 L -70,22 L -70,34 L -93,34 Z" fill="#000" stroke="none"/>
</g>
<g transform="scale(1,1)">
<path d="M -93,-56 L -66,-84 L -40,-90 M -92,-40 H -76 M -92,-33 H -76 M -88,-56 V -30 M -80,-60 V -28" stroke-width="2.00"/>
<path d="M -93,56 L -66,82 L -40,92 M -92,40 H -76 M -92,33 H -76 M -88,56 V 30 M -80,60 V 28" stroke-width="2.00"/>
<path d="M -93,-30 L -70,-30 L -70,-16 L -93,-16 Z" fill="#000" stroke="none"/>
<path d="M -93,22 L -70,22 L -70,34 L -93,34 Z" fill="#000" stroke="none"/>
</g>
<path d="M -39,-94 Q -58,-90 -64,-82 L -75,-45 Q -80,-10 -80,10 L -64,74 L 0,108 L 64,74 L 80,10 Q 80,-10 75,-45 L 64,-82 Q 58,-90 39,-94 Z" fill="#fff" stroke="none"/>
<path d="M -67,-77 L -81,-22 M 67,-77 L 81,-22" stroke-width="1.80"/>
<path d="M -39,-94 Q -58,-90 -67,-77 M 39,-94 Q 58,-90 67,-77" stroke-width="4.50"/>
<path d="M -63,73 L 0,107 L 63,73" stroke-width="5.00"/>
<path d="M -49,-97 L -42.8,-98 Q -40,-100.8 -36.1,-100.8 H 36.2 Q 40,-100.8 42.8,-98 L 49,-97" stroke-width="2.50"/>
<path d="M -29.4,-96 H 29.4 M -28.5,-90.7 H 28.5" stroke-width="2.20"/>
<path d="M -12,-99 H 12 L 10,-96 H -10 Z" fill="#000" stroke="none"/>
<path d="M -37,-91 L -49,68 M 37,-91 L 49,68" stroke-width="3.00"/>
<path d="M -29,-91 L -44,83 M 29,-91 L 44,83" stroke-width="2.00"/>
<path d="M -35,-35.5 H 36" stroke-width="2.20"/>
<path d="M 0,-100 V 107" stroke-width="2.20"/>
<g transform="scale(-1,1)">
<path d="M -40,-92 L -57,-34 L -71,-20 L -76,10 L -70,52 L -63,72" stroke-width="4.50"/>
<path d="M -35,-90 L -52,-32 L -66,-18 L -71,10 L -66,50 L -60,70" stroke-width="1.60"/>
<path d="M -46,-85 L -61,-36 L -66,-22 M -71,10 L -40,-10 M -68,13 L -45,4" stroke-width="2.50"/>
<path d="M -60,-46 L -73,-28 L -77,8" stroke-width="2.00"/>
</g>
<g transform="scale(1,1)">
<path d="M -40,-92 L -57,-34 L -71,-20 L -76,10 L -70,52 L -63,72" stroke-width="4.50"/>
<path d="M -35,-90 L -52,-32 L -66,-18 L -71,10 L -66,50 L -60,70" stroke-width="1.60"/>
<path d="M -46,-85 L -61,-36 L -66,-22 M -71,10 L -40,-10 M -68,13 L -45,4" stroke-width="2.50"/>
<path d="M -60,-46 L -73,-28 L -77,8" stroke-width="2.00"/>
</g>
<path d="M -4,-3 L 4,3 M -4,3 L 4,-3" stroke-width="1.50"/>
<path d="M -28,100 V 134 M 28,100 V 134" stroke-width="2.00"/>
<circle cx="0" cy="134" r="28.5" fill="#fff" stroke-width="5.50"/>
<circle cx="0" cy="134" r="25" fill="none" stroke-width="1.50"/>
<ellipse cx="0" cy="117.5" rx="13" ry="5.5" stroke-width="2.50"/>
<circle cx="0" cy="134" r="6.5" stroke-width="2.50"/>
<path d="M -2.5,136 L 0,131 L 2.5,136 Z" stroke-width="2.00"/>
<path d="M -6,131 L -22,124 M 6,131 L 22,124 M -3,140 V 158 M 3,140 V 158" stroke-width="2.50"/></g>
<path d="M 288,726 l6,6 M 288,732 l6,-6 M 1461,726 l6,6 M 1461,732 l6,-6" stroke-width="1.5"/>
<g transform="translate(2204.0,611.0) scale(1.33)"><g transform="scale(-1,1)">
<rect x="-158.2" y="-177.5" width="23.7" height="118.5" rx="2" stroke-width="1.88"/>
<rect x="-158.2" y="52" width="23.7" height="119" rx="2" stroke-width="1.88"/>
<path d="M -157,-63 H -136 M -157,55 H -136" stroke-width="1.50"/>
<path d="M -152.5,-59 V 52 M -141.3,-59 V 52" stroke-width="1.65"/>
<rect x="-155.5" y="-48" width="20.5" height="20" fill="#fff" stroke-width="1.65"/>
<rect x="-155.5" y="28" width="20.5" height="21" fill="#fff" stroke-width="1.65"/>
<path d="M -153,-45 L -148,-40 M -153,-31 L -148,-36 M -153,31 L -148,36 M -153,46 L -148,41 M -141,-47 V -29 M -141,29 V 48" stroke-width="1.65"/>
<path d="M -146,-44 Q -142,-38 -146,-32 M -146,32 Q -142,38 -146,44" stroke-width="1.88"/>
<path d="M -138,-45 H -100 M -138,-32 H -100 M -138,32 H -100 M -138,45 H -100" stroke-width="1.65"/>
<path d="M -146,-38.5 Q -146,-45 -138,-45 M -146,38.5 Q -146,45 -138,45 M -146,-38.5 Q -146,-32 -138,-32 M -146,38.5 Q -146,32 -138,32" stroke-width="1.65"/>
<rect x="-109" y="-47" width="11" height="17" rx="3" fill="#000" stroke="none"/>
<rect x="-109" y="30" width="11" height="17" rx="3" fill="#000" stroke="none"/>
</g>
<g transform="scale(1,1)">
<rect x="-158.2" y="-177.5" width="23.7" height="118.5" rx="2" stroke-width="1.88"/>
<rect x="-158.2" y="52" width="23.7" height="119" rx="2" stroke-width="1.88"/>
<path d="M -157,-63 H -136 M -157,55 H -136" stroke-width="1.50"/>
<path d="M -152.5,-59 V 52 M -141.3,-59 V 52" stroke-width="1.65"/>
<rect x="-155.5" y="-48" width="20.5" height="20" fill="#fff" stroke-width="1.65"/>
<rect x="-155.5" y="28" width="20.5" height="21" fill="#fff" stroke-width="1.65"/>
<path d="M -153,-45 L -148,-40 M -153,-31 L -148,-36 M -153,31 L -148,36 M -153,46 L -148,41 M -141,-47 V -29 M -141,29 V 48" stroke-width="1.65"/>
<path d="M -146,-44 Q -142,-38 -146,-32 M -146,32 Q -142,38 -146,44" stroke-width="1.88"/>
<path d="M -138,-45 H -100 M -138,-32 H -100 M -138,32 H -100 M -138,45 H -100" stroke-width="1.65"/>
<path d="M -146,-38.5 Q -146,-45 -138,-45 M -146,38.5 Q -146,45 -138,45 M -146,-38.5 Q -146,-32 -138,-32 M -146,38.5 Q -146,32 -138,32" stroke-width="1.65"/>
<rect x="-109" y="-47" width="11" height="17" rx="3" fill="#000" stroke="none"/>
<rect x="-109" y="30" width="11" height="17" rx="3" fill="#000" stroke="none"/>
</g></g>
<g transform="translate(2204.0,611.0) scale(1.33) rotate(0)"><path d="M -154.3,-11.4 H -94 M -154.3,10.8 H -94" stroke-width="1.65"/>
<path d="M -154.3,-4.2 H -94 M -154.3,4.6 H -94" stroke-width="2.41"/>
<rect x="-198.6" y="-13.7" width="43.2" height="25.6" fill="#fff" stroke-width="1.65"/>
<path d="M -196,-6 H -158 M -196,5 H -158" stroke-width="1.13"/>
<rect x="-192" y="-5" width="28" height="9" fill="#000" stroke="none"/>
<path d="M -181,-3.5 L -178,-0.5 L -181,2.5 L -184,-0.5 Z" fill="#fff" stroke="none"/>
<circle cx="-190.8" cy="8" r="7" fill="#000" stroke="none"/>
<rect x="-198" y="-24" width="8" height="22" fill="#fff" stroke-width="1.50"/>
<rect x="-197" y="-10" width="6" height="8" fill="#000" stroke="none"/>
<path d="M -224,-11 H -199 V 7 H -224 Z" fill="#000" stroke="none"/>
<path d="M -218,-4 V 8 M -211,-4 V 8 M -206,-4 V 8" stroke="#fff" stroke-width="1.13"/></g>
<g transform="translate(2204.0,611.0) scale(1.33) rotate(60)"><path d="M -154.3,-11.4 H -94 M -154.3,10.8 H -94" stroke-width="1.65"/>
<path d="M -154.3,-4.2 H -94 M -154.3,4.6 H -94" stroke-width="2.41"/>
<rect x="-198.6" y="-13.7" width="43.2" height="25.6" fill="#fff" stroke-width="1.65"/>
<path d="M -196,-6 H -158 M -196,5 H -158" stroke-width="1.13"/>
<rect x="-192" y="-5" width="28" height="9" fill="#000" stroke="none"/>
<path d="M -181,-3.5 L -178,-0.5 L -181,2.5 L -184,-0.5 Z" fill="#fff" stroke="none"/>
<circle cx="-190.8" cy="8" r="7" fill="#000" stroke="none"/>
<rect x="-198" y="-24" width="8" height="22" fill="#fff" stroke-width="1.50"/>
<rect x="-197" y="-10" width="6" height="8" fill="#000" stroke="none"/>
<path d="M -224,-11 H -199 V 7 H -224 Z" fill="#000" stroke="none"/>
<path d="M -218,-4 V 8 M -211,-4 V 8 M -206,-4 V 8" stroke="#fff" stroke-width="1.13"/></g>
<g transform="translate(2204.0,611.0) scale(1.33) rotate(120)"><path d="M -154.3,-11.4 H -94 M -154.3,10.8 H -94" stroke-width="1.65"/>
<path d="M -154.3,-4.2 H -94 M -154.3,4.6 H -94" stroke-width="2.41"/>
<rect x="-198.6" y="-13.7" width="43.2" height="25.6" fill="#fff" stroke-width="1.65"/>
<path d="M -196,-6 H -158 M -196,5 H -158" stroke-width="1.13"/>
<rect x="-192" y="-5" width="28" height="9" fill="#000" stroke="none"/>
<path d="M -181,-3.5 L -178,-0.5 L -181,2.5 L -184,-0.5 Z" fill="#fff" stroke="none"/>
<circle cx="-190.8" cy="8" r="7" fill="#000" stroke="none"/>
<rect x="-198" y="-24" width="8" height="22" fill="#fff" stroke-width="1.50"/>
<rect x="-197" y="-10" width="6" height="8" fill="#000" stroke="none"/>
<path d="M -224,-11 H -199 V 7 H -224 Z" fill="#000" stroke="none"/>
<path d="M -218,-4 V 8 M -211,-4 V 8 M -206,-4 V 8" stroke="#fff" stroke-width="1.13"/></g>
<g transform="translate(2204.0,611.0) scale(1.33) rotate(180)"><path d="M -154.3,-11.4 H -94 M -154.3,10.8 H -94" stroke-width="1.65"/>
<path d="M -154.3,-4.2 H -94 M -154.3,4.6 H -94" stroke-width="2.41"/>
<rect x="-198.6" y="-13.7" width="43.2" height="25.6" fill="#fff" stroke-width="1.65"/>
<path d="M -196,-6 H -158 M -196,5 H -158" stroke-width="1.13"/>
<rect x="-192" y="-5" width="28" height="9" fill="#000" stroke="none"/>
<path d="M -181,-3.5 L -178,-0.5 L -181,2.5 L -184,-0.5 Z" fill="#fff" stroke="none"/>
<circle cx="-190.8" cy="8" r="7" fill="#000" stroke="none"/>
<rect x="-198" y="-24" width="8" height="22" fill="#fff" stroke-width="1.50"/>
<rect x="-197" y="-10" width="6" height="8" fill="#000" stroke="none"/>
<path d="M -224,-11 H -199 V 7 H -224 Z" fill="#000" stroke="none"/>
<path d="M -218,-4 V 8 M -211,-4 V 8 M -206,-4 V 8" stroke="#fff" stroke-width="1.13"/></g>
<g transform="translate(2204.0,611.0) scale(1.33) rotate(240)"><path d="M -154.3,-11.4 H -94 M -154.3,10.8 H -94" stroke-width="1.65"/>
<path d="M -154.3,-4.2 H -94 M -154.3,4.6 H -94" stroke-width="2.41"/>
<rect x="-198.6" y="-13.7" width="43.2" height="25.6" fill="#fff" stroke-width="1.65"/>
<path d="M -196,-6 H -158 M -196,5 H -158" stroke-width="1.13"/>
<rect x="-192" y="-5" width="28" height="9" fill="#000" stroke="none"/>
<path d="M -181,-3.5 L -178,-0.5 L -181,2.5 L -184,-0.5 Z" fill="#fff" stroke="none"/>
<circle cx="-190.8" cy="8" r="7" fill="#000" stroke="none"/>
<rect x="-198" y="-24" width="8" height="22" fill="#fff" stroke-width="1.50"/>
<rect x="-197" y="-10" width="6" height="8" fill="#000" stroke="none"/>
<path d="M -224,-11 H -199 V 7 H -224 Z" fill="#000" stroke="none"/>
<path d="M -218,-4 V 8 M -211,-4 V 8 M -206,-4 V 8" stroke="#fff" stroke-width="1.13"/></g>
<g transform="translate(2204.0,611.0) scale(1.33) rotate(300)"><path d="M -154.3,-11.4 H -94 M -154.3,10.8 H -94" stroke-width="1.65"/>
<path d="M -154.3,-4.2 H -94 M -154.3,4.6 H -94" stroke-width="2.41"/>
<rect x="-198.6" y="-13.7" width="43.2" height="25.6" fill="#fff" stroke-width="1.65"/>
<path d="M -196,-6 H -158 M -196,5 H -158" stroke-width="1.13"/>
<rect x="-192" y="-5" width="28" height="9" fill="#000" stroke="none"/>
<path d="M -181,-3.5 L -178,-0.5 L -181,2.5 L -184,-0.5 Z" fill="#fff" stroke="none"/>
<circle cx="-190.8" cy="8" r="7" fill="#000" stroke="none"/>
<rect x="-198" y="-24" width="8" height="22" fill="#fff" stroke-width="1.50"/>
<rect x="-197" y="-10" width="6" height="8" fill="#000" stroke="none"/>
<path d="M -224,-11 H -199 V 7 H -224 Z" fill="#000" stroke="none"/>
<path d="M -218,-4 V 8 M -211,-4 V 8 M -206,-4 V 8" stroke="#fff" stroke-width="1.13"/></g>
<g transform="translate(2204.0,611.0) scale(1.33)"><path d="M -94.4,-58 L -67,-86 L -41,-95 M -94.4,-58 V 58 L -63,89 L -41,98 M 94.4,-58 L 67,-86 L 41,-95 M 94.4,-58 V 58 L 63,89 L 41,98" stroke-width="2.26"/>
<path d="M -93,-19 V 21 M 93,-19 V 21" stroke-width="4.51"/>
<g transform="scale(-1,1)">
<path d="M -93,-56 L -66,-84 L -40,-90 M -92,-40 H -76 M -92,-33 H -76 M -88,-56 V -30 M -80,-60 V -28" stroke-width="1.50"/>
<path d="M -93,56 L -66,82 L -40,92 M -92,40 H -76 M -92,33 H -76 M -88,56 V 30 M -80,60 V 28" stroke-width="1.50"/>
<path d="M -93,-30 L -70,-30 L -70,-16 L -93,-16 Z" fill="#000" stroke="none"/>
<path d="M -93,22 L -70,22 L -70,34 L -93,34 Z" fill="#000" stroke="none"/>
</g>
<g transform="scale(1,1)">
<path d="M -93,-56 L -66,-84 L -40,-90 M -92,-40 H -76 M -92,-33 H -76 M -88,-56 V -30 M -80,-60 V -28" stroke-width="1.50"/>
<path d="M -93,56 L -66,82 L -40,92 M -92,40 H -76 M -92,33 H -76 M -88,56 V 30 M -80,60 V 28" stroke-width="1.50"/>
<path d="M -93,-30 L -70,-30 L -70,-16 L -93,-16 Z" fill="#000" stroke="none"/>
<path d="M -93,22 L -70,22 L -70,34 L -93,34 Z" fill="#000" stroke="none"/>
</g>
<path d="M -39,-94 Q -58,-90 -64,-82 L -75,-45 Q -80,-10 -80,10 L -64,74 L 0,108 L 64,74 L 80,10 Q 80,-10 75,-45 L 64,-82 Q 58,-90 39,-94 Z" fill="#fff" stroke="none"/>
<path d="M -67,-77 L -81,-22 M 67,-77 L 81,-22" stroke-width="1.35"/>
<path d="M -39,-94 Q -58,-90 -67,-77 M 39,-94 Q 58,-90 67,-77" stroke-width="3.38"/>
<path d="M -63,73 L 0,107 L 63,73" stroke-width="3.76"/>
<path d="M -49,-97 L -42.8,-98 Q -40,-100.8 -36.1,-100.8 H 36.2 Q 40,-100.8 42.8,-98 L 49,-97" stroke-width="1.88"/>
<path d="M -29.4,-96 H 29.4 M -28.5,-90.7 H 28.5" stroke-width="1.65"/>
<path d="M -12,-99 H 12 L 10,-96 H -10 Z" fill="#000" stroke="none"/>
<path d="M -37,-91 L -49,68 M 37,-91 L 49,68" stroke-width="2.26"/>
<path d="M -29,-91 L -44,83 M 29,-91 L 44,83" stroke-width="1.50"/>
<path d="M -35,-35.5 H 36" stroke-width="1.65"/>
<path d="M 0,-100 V 107" stroke-width="1.65"/>
<g transform="scale(-1,1)">
<path d="M -40,-92 L -57,-34 L -71,-20 L -76,10 L -70,52 L -63,72" stroke-width="3.38"/>
<path d="M -35,-90 L -52,-32 L -66,-18 L -71,10 L -66,50 L -60,70" stroke-width="1.20"/>
<path d="M -46,-85 L -61,-36 L -66,-22 M -71,10 L -40,-10 M -68,13 L -45,4" stroke-width="1.88"/>
<path d="M -60,-46 L -73,-28 L -77,8" stroke-width="1.50"/>
</g>
<g transform="scale(1,1)">
<path d="M -40,-92 L -57,-34 L -71,-20 L -76,10 L -70,52 L -63,72" stroke-width="3.38"/>
<path d="M -35,-90 L -52,-32 L -66,-18 L -71,10 L -66,50 L -60,70" stroke-width="1.20"/>
<path d="M -46,-85 L -61,-36 L -66,-22 M -71,10 L -40,-10 M -68,13 L -45,4" stroke-width="1.88"/>
<path d="M -60,-46 L -73,-28 L -77,8" stroke-width="1.50"/>
</g>
<path d="M -4,-3 L 4,3 M -4,3 L 4,-3" stroke-width="1.13"/>
<path d="M -28,100 V 134 M 28,100 V 134" stroke-width="1.50"/>
<circle cx="0" cy="134" r="28.5" fill="#fff" stroke-width="4.14"/>
<circle cx="0" cy="134" r="25" fill="none" stroke-width="1.13"/>
<ellipse cx="0" cy="117.5" rx="13" ry="5.5" stroke-width="1.88"/>
<circle cx="0" cy="134" r="6.5" stroke-width="1.88"/>
<path d="M -2.5,136 L 0,131 L 2.5,136 Z" stroke-width="1.50"/>
<path d="M -6,131 L -22,124 M 6,131 L 22,124 M -3,140 V 158 M 3,140 V 158" stroke-width="1.88"/></g>
<g transform="rotate(0,2204.0,611.0)"><path d="M 2289,346 L 2325.4,347.8 L 2325.4,372 L 2287,370 Z" fill="#fff" stroke-width="2"/>
<path d="M 2288,374 L 2324,377" stroke-width="4.5" stroke-dasharray="1.5 1.8"/>
<path d="M 2248.9,332.8 L 2289.9,336.5 L 2286.2,375.8 L 2245.1,368.3 Z" fill="#000" stroke="#000" stroke-width="2"/>
<path d="M 2255,336 L 2253,368 M 2276,338 L 2274,372" stroke="#fff" stroke-width="0.9" stroke-dasharray="2 3"/>
<path d="M 2234,338.4 L 2249,336 M 2234,361.8 L 2246,365" stroke-width="2"/>
<path d="M 2064,278.7 L 2230.2,334.7 Q 2238,337 2237,348 Q 2236,361.8 2228,361.8 L 2030.4,353.4 L 2032,340 L 2045,286 Q 2052,279 2064,278.7 Z" fill="#fff" stroke-width="2"/>
<path d="M 2041.6,314.1 L 2230.2,347.8" stroke-width="2"/>
<path d="M 2004.3,301 L 1991.2,306.7 L 1991.2,332.8 L 2004.3,338.4" fill="#fff" stroke-width="2.2"/>
<path d="M 2001,304 V 336" stroke-width="1.5"/>
<circle cx="2027.6" cy="320.7" r="25" fill="#fff" stroke-width="2.2"/>
<path d="M 2016,298 A 25 25 0 0 0 2016,343" stroke-width="4.5"/>
<path d="M 2036,299.2 L 2058.4,306.7 L 2037.9,309.5 M 2036,338.4 L 2054.7,343 L 2036,347.8" fill="#fff" stroke-width="2.2"/>
<g transform="translate(2030.4,320.2) rotate(95)"><rect x="-27" y="-6" width="54" height="12" rx="6" fill="#fff" stroke-width="2.2"/><rect x="-23" y="-3" width="46" height="6" rx="3" fill="none" stroke-width="1.2"/><rect x="-11" y="-6" width="22" height="12" fill="#000" stroke="none"/><path d="M -7,-2 h3 M 4,-2 h3 M -7,2 h3 M 4,2 h3 M -1,-4 v8" stroke="#fff" stroke-width="1.5"/></g></g>
<g transform="rotate(60,2204.0,611.0)"><path d="M 2289,346 L 2325.4,347.8 L 2325.4,372 L 2287,370 Z" fill="#fff" stroke-width="2"/>
<path d="M 2288,374 L 2324,377" stroke-width="4.5" stroke-dasharray="1.5 1.8"/>
<path d="M 2248.9,332.8 L 2289.9,336.5 L 2286.2,375.8 L 2245.1,368.3 Z" fill="#000" stroke="#000" stroke-width="2"/>
<path d="M 2255,336 L 2253,368 M 2276,338 L 2274,372" stroke="#fff" stroke-width="0.9" stroke-dasharray="2 3"/>
<path d="M 2234,338.4 L 2249,336 M 2234,361.8 L 2246,365" stroke-width="2"/>
<path d="M 2064,278.7 L 2230.2,334.7 Q 2238,337 2237,348 Q 2236,361.8 2228,361.8 L 2030.4,353.4 L 2032,340 L 2045,286 Q 2052,279 2064,278.7 Z" fill="#fff" stroke-width="2"/>
<path d="M 2041.6,314.1 L 2230.2,347.8" stroke-width="2"/>
<path d="M 2004.3,301 L 1991.2,306.7 L 1991.2,332.8 L 2004.3,338.4" fill="#fff" stroke-width="2.2"/>
<path d="M 2001,304 V 336" stroke-width="1.5"/>
<circle cx="2027.6" cy="320.7" r="25" fill="#fff" stroke-width="2.2"/>
<path d="M 2016,298 A 25 25 0 0 0 2016,343" stroke-width="4.5"/>
<path d="M 2036,299.2 L 2058.4,306.7 L 2037.9,309.5 M 2036,338.4 L 2054.7,343 L 2036,347.8" fill="#fff" stroke-width="2.2"/>
<g transform="translate(2030.4,320.2) rotate(95)"><rect x="-27" y="-6" width="54" height="12" rx="6" fill="#fff" stroke-width="2.2"/><rect x="-23" y="-3" width="46" height="6" rx="3" fill="none" stroke-width="1.2"/><rect x="-11" y="-6" width="22" height="12" fill="#000" stroke="none"/><path d="M -7,-2 h3 M 4,-2 h3 M -7,2 h3 M 4,2 h3 M -1,-4 v8" stroke="#fff" stroke-width="1.5"/></g></g>
<g transform="rotate(120,2204.0,611.0)"><path d="M 2289,346 L 2325.4,347.8 L 2325.4,372 L 2287,370 Z" fill="#fff" stroke-width="2"/>
<path d="M 2288,374 L 2324,377" stroke-width="4.5" stroke-dasharray="1.5 1.8"/>
<path d="M 2248.9,332.8 L 2289.9,336.5 L 2286.2,375.8 L 2245.1,368.3 Z" fill="#000" stroke="#000" stroke-width="2"/>
<path d="M 2255,336 L 2253,368 M 2276,338 L 2274,372" stroke="#fff" stroke-width="0.9" stroke-dasharray="2 3"/>
<path d="M 2234,338.4 L 2249,336 M 2234,361.8 L 2246,365" stroke-width="2"/>
<path d="M 2064,278.7 L 2230.2,334.7 Q 2238,337 2237,348 Q 2236,361.8 2228,361.8 L 2030.4,353.4 L 2032,340 L 2045,286 Q 2052,279 2064,278.7 Z" fill="#fff" stroke-width="2"/>
<path d="M 2041.6,314.1 L 2230.2,347.8" stroke-width="2"/>
<path d="M 2004.3,301 L 1991.2,306.7 L 1991.2,332.8 L 2004.3,338.4" fill="#fff" stroke-width="2.2"/>
<path d="M 2001,304 V 336" stroke-width="1.5"/>
<circle cx="2027.6" cy="320.7" r="25" fill="#fff" stroke-width="2.2"/>
<path d="M 2016,298 A 25 25 0 0 0 2016,343" stroke-width="4.5"/>
<path d="M 2036,299.2 L 2058.4,306.7 L 2037.9,309.5 M 2036,338.4 L 2054.7,343 L 2036,347.8" fill="#fff" stroke-width="2.2"/>
<g transform="translate(2030.4,320.2) rotate(95)"><rect x="-27" y="-6" width="54" height="12" rx="6" fill="#fff" stroke-width="2.2"/><rect x="-23" y="-3" width="46" height="6" rx="3" fill="none" stroke-width="1.2"/><rect x="-11" y="-6" width="22" height="12" fill="#000" stroke="none"/><path d="M -7,-2 h3 M 4,-2 h3 M -7,2 h3 M 4,2 h3 M -1,-4 v8" stroke="#fff" stroke-width="1.5"/></g></g>
<g transform="rotate(180,2204.0,611.0)"><path d="M 2289,346 L 2325.4,347.8 L 2325.4,372 L 2287,370 Z" fill="#fff" stroke-width="2"/>
<path d="M 2288,374 L 2324,377" stroke-width="4.5" stroke-dasharray="1.5 1.8"/>
<path d="M 2248.9,332.8 L 2289.9,336.5 L 2286.2,375.8 L 2245.1,368.3 Z" fill="#000" stroke="#000" stroke-width="2"/>
<path d="M 2255,336 L 2253,368 M 2276,338 L 2274,372" stroke="#fff" stroke-width="0.9" stroke-dasharray="2 3"/>
<path d="M 2234,338.4 L 2249,336 M 2234,361.8 L 2246,365" stroke-width="2"/>
<path d="M 2064,278.7 L 2230.2,334.7 Q 2238,337 2237,348 Q 2236,361.8 2228,361.8 L 2030.4,353.4 L 2032,340 L 2045,286 Q 2052,279 2064,278.7 Z" fill="#fff" stroke-width="2"/>
<path d="M 2041.6,314.1 L 2230.2,347.8" stroke-width="2"/>
<path d="M 2004.3,301 L 1991.2,306.7 L 1991.2,332.8 L 2004.3,338.4" fill="#fff" stroke-width="2.2"/>
<path d="M 2001,304 V 336" stroke-width="1.5"/>
<circle cx="2027.6" cy="320.7" r="25" fill="#fff" stroke-width="2.2"/>
<path d="M 2016,298 A 25 25 0 0 0 2016,343" stroke-width="4.5"/>
<path d="M 2036,299.2 L 2058.4,306.7 L 2037.9,309.5 M 2036,338.4 L 2054.7,343 L 2036,347.8" fill="#fff" stroke-width="2.2"/>
<g transform="translate(2030.4,320.2) rotate(95)"><rect x="-27" y="-6" width="54" height="12" rx="6" fill="#fff" stroke-width="2.2"/><rect x="-23" y="-3" width="46" height="6" rx="3" fill="none" stroke-width="1.2"/><rect x="-11" y="-6" width="22" height="12" fill="#000" stroke="none"/><path d="M -7,-2 h3 M 4,-2 h3 M -7,2 h3 M 4,2 h3 M -1,-4 v8" stroke="#fff" stroke-width="1.5"/></g></g>
<g transform="rotate(240,2204.0,611.0)"><path d="M 2289,346 L 2325.4,347.8 L 2325.4,372 L 2287,370 Z" fill="#fff" stroke-width="2"/>
<path d="M 2288,374 L 2324,377" stroke-width="4.5" stroke-dasharray="1.5 1.8"/>
<path d="M 2248.9,332.8 L 2289.9,336.5 L 2286.2,375.8 L 2245.1,368.3 Z" fill="#000" stroke="#000" stroke-width="2"/>
<path d="M 2255,336 L 2253,368 M 2276,338 L 2274,372" stroke="#fff" stroke-width="0.9" stroke-dasharray="2 3"/>
<path d="M 2234,338.4 L 2249,336 M 2234,361.8 L 2246,365" stroke-width="2"/>
<path d="M 2064,278.7 L 2230.2,334.7 Q 2238,337 2237,348 Q 2236,361.8 2228,361.8 L 2030.4,353.4 L 2032,340 L 2045,286 Q 2052,279 2064,278.7 Z" fill="#fff" stroke-width="2"/>
<path d="M 2041.6,314.1 L 2230.2,347.8" stroke-width="2"/>
<path d="M 2004.3,301 L 1991.2,306.7 L 1991.2,332.8 L 2004.3,338.4" fill="#fff" stroke-width="2.2"/>
<path d="M 2001,304 V 336" stroke-width="1.5"/>
<circle cx="2027.6" cy="320.7" r="25" fill="#fff" stroke-width="2.2"/>
<path d="M 2016,298 A 25 25 0 0 0 2016,343" stroke-width="4.5"/>
<path d="M 2036,299.2 L 2058.4,306.7 L 2037.9,309.5 M 2036,338.4 L 2054.7,343 L 2036,347.8" fill="#fff" stroke-width="2.2"/>
<g transform="translate(2030.4,320.2) rotate(95)"><rect x="-27" y="-6" width="54" height="12" rx="6" fill="#fff" stroke-width="2.2"/><rect x="-23" y="-3" width="46" height="6" rx="3" fill="none" stroke-width="1.2"/><rect x="-11" y="-6" width="22" height="12" fill="#000" stroke="none"/><path d="M -7,-2 h3 M 4,-2 h3 M -7,2 h3 M 4,2 h3 M -1,-4 v8" stroke="#fff" stroke-width="1.5"/></g></g>
<g transform="rotate(300,2204.0,611.0)"><path d="M 2289,346 L 2325.4,347.8 L 2325.4,372 L 2287,370 Z" fill="#fff" stroke-width="2"/>
<path d="M 2288,374 L 2324,377" stroke-width="4.5" stroke-dasharray="1.5 1.8"/>
<path d="M 2248.9,332.8 L 2289.9,336.5 L 2286.2,375.8 L 2245.1,368.3 Z" fill="#000" stroke="#000" stroke-width="2"/>
<path d="M 2255,336 L 2253,368 M 2276,338 L 2274,372" stroke="#fff" stroke-width="0.9" stroke-dasharray="2 3"/>
<path d="M 2234,338.4 L 2249,336 M 2234,361.8 L 2246,365" stroke-width="2"/>
<path d="M 2064,278.7 L 2230.2,334.7 Q 2238,337 2237,348 Q 2236,361.8 2228,361.8 L 2030.4,353.4 L 2032,340 L 2045,286 Q 2052,279 2064,278.7 Z" fill="#fff" stroke-width="2"/>
<path d="M 2041.6,314.1 L 2230.2,347.8" stroke-width="2"/>
<path d="M 2004.3,301 L 1991.2,306.7 L 1991.2,332.8 L 2004.3,338.4" fill="#fff" stroke-width="2.2"/>
<path d="M 2001,304 V 336" stroke-width="1.5"/>
<circle cx="2027.6" cy="320.7" r="25" fill="#fff" stroke-width="2.2"/>
<path d="M 2016,298 A 25 25 0 0 0 2016,343" stroke-width="4.5"/>
<path d="M 2036,299.2 L 2058.4,306.7 L 2037.9,309.5 M 2036,338.4 L 2054.7,343 L 2036,347.8" fill="#fff" stroke-width="2.2"/>
<g transform="translate(2030.4,320.2) rotate(95)"><rect x="-27" y="-6" width="54" height="12" rx="6" fill="#fff" stroke-width="2.2"/><rect x="-23" y="-3" width="46" height="6" rx="3" fill="none" stroke-width="1.2"/><rect x="-11" y="-6" width="22" height="12" fill="#000" stroke="none"/><path d="M -7,-2 h3 M 4,-2 h3 M -7,2 h3 M 4,2 h3 M -1,-4 v8" stroke="#fff" stroke-width="1.5"/></g></g>
<path d="M 518,1513.5 Q 560,1512 640,1513 M 530,1517 Q 600,1519 660,1523 M 520,1514 q -3,2 2,3.5" stroke-width="2"/>
<path d="M 690,1512.5 L 818,1512.5 M 700,1518 Q 720,1527 740,1522 Q 770,1517 818,1518" stroke-width="2"/>
<path d="M 453,1519 Q 456,1507 464,1506.5 Q 472,1507 475,1519 Z" fill="#000" stroke="none"/>
<rect x="460" y="1511" width="8" height="3" fill="#fff" stroke="none"/>
<rect x="441.0" y="1517.5" width="44.0" height="10.0" rx="2" fill="#000" stroke="none"/>
<rect x="443.0" y="1527.5" width="41.0" height="11.5" fill="#fff" stroke-width="2" />
<rect x="436.0" y="1539.0" width="49.0" height="16.0" rx="2" fill="#000" stroke="none"/>
<path d="M 440,1543.5 H 481 M 440,1550 H 481" stroke="#fff" stroke-width="2" stroke-dasharray="3 1.5"/>
<path d="M 446,1537 V 1554 M 476,1537 V 1554" stroke="#fff" stroke-width="1.5"/>
<rect x="455.0" y="1554.0" width="22.0" height="8.5" rx="1" fill="#000" stroke="none"/>
<rect x="485.0" y="1533.5" width="31.5" height="22.5" rx="2" fill="#000" stroke="none"/>
<path d="M 491,1540 V 1552 M 500,1540 V 1552" stroke="#fff" stroke-width="1.2" stroke-dasharray="2 2"/>
<path d="M 460.0,1562 V 1654 M 473.0,1562 V 1654" stroke-width="2.2"/>
<path d="M 459.5,1585.5 H 473.5" stroke-width="2"/>
<g transform="translate(471.5,1592) rotate(-45)"><rect x="-3" y="-5" width="28" height="10" fill="#000" stroke="none"/><path d="M 8,-3 V 3 M 14,-3 V 3 M 19,-3 V 3" stroke="#fff" stroke-width="1.5"/></g>
<rect x="458.5" y="1653.0" width="16.0" height="7.0" rx="1" fill="#000" stroke="none"/>
<rect x="458.0" y="1660.0" width="17.0" height="4.0" fill="#fff" stroke-width="2" />
<path d="M 471.5,1668 h 10 q 8,0 8,9 q 0,9 -8,9 h -10 Z" fill="#fff" stroke-width="2.5"/>
<rect x="458.5" y="1665.0" width="16.0" height="25.0" rx="1" fill="#000" stroke="none"/>
<path d="M 461.5,1672 h10 M 461.5,1680 h10 M 475.5,1670 v14 M 481.5,1670 v14" stroke="#fff" stroke-width="2"/>
<rect x="457.5" y="1689.0" width="18.0" height="11.0" fill="#fff" stroke-width="2.5" />
<path d="M 460.5,1694.5 h12" stroke-width="2"/>
<rect x="462.5" y="1699.0" width="8.0" height="4.0" rx="0" fill="#000" stroke="none"/>
<path d="M 516,1536 H 645 M 516,1555 H 645" stroke-width="2.2"/>
<rect x="651.0" y="1509.0" width="40.0" height="17.0" rx="2" fill="#000" stroke="none"/>
<path d="M 656,1513.5 h6 M 665,1513.5 h4 M 672,1513.5 h5 M 680,1513.5 h6 M 654,1519.5 h7 M 664,1519.5 h6 M 673,1519.5 h6 M 682,1519.5 h6" stroke="#fff" stroke-width="3"/>
<rect x="648.0" y="1524.0" width="46.0" height="4.0" rx="1" fill="#000" stroke="none"/>
<rect x="651.0" y="1526.0" width="40.0" height="11.0" fill="#fff" stroke-width="2" />
<rect x="645.0" y="1536.5" width="62.0" height="25.5" rx="3" fill="#000" stroke="none"/>
<path d="M 647,1543.5 H 688 M 647,1550 H 688" stroke="#fff" stroke-width="2" stroke-dasharray="3 1.5"/>
<path d="M 653,1537 V 1554 M 683,1537 V 1554" stroke="#fff" stroke-width="1.5"/>
<rect x="662.0" y="1554.0" width="22.0" height="8.5" rx="1" fill="#000" stroke="none"/>
<path d="M 665.0,1562 V 1654 M 678.0,1562 V 1654" stroke-width="2.2"/>
<path d="M 664.5,1585.5 H 678.5" stroke-width="2"/>
<g transform="translate(676.5,1592) rotate(-45)"><rect x="-3" y="-5" width="28" height="10" fill="#000" stroke="none"/><path d="M 8,-3 V 3 M 14,-3 V 3 M 19,-3 V 3" stroke="#fff" stroke-width="1.5"/></g>
<rect x="663.5" y="1653.0" width="16.0" height="7.0" rx="1" fill="#000" stroke="none"/>
<rect x="663.0" y="1660.0" width="17.0" height="4.0" fill="#fff" stroke-width="2" />
<path d="M 676.5,1668 h 10 q 8,0 8,9 q 0,9 -8,9 h -10 Z" fill="#fff" stroke-width="2.5"/>
<rect x="663.5" y="1665.0" width="16.0" height="25.0" rx="1" fill="#000" stroke="none"/>
<path d="M 666.5,1672 h10 M 666.5,1680 h10 M 680.5,1670 v14 M 686.5,1670 v14" stroke="#fff" stroke-width="2"/>
<rect x="662.5" y="1689.0" width="18.0" height="11.0" fill="#fff" stroke-width="2.5" />
<path d="M 665.5,1694.5 h12" stroke-width="2"/>
<rect x="667.5" y="1699.0" width="8.0" height="4.0" rx="0" fill="#000" stroke="none"/>
<path d="M 706,1535 H 760 M 706,1557.5 H 760" stroke-width="3"/>
<rect x="758.6" y="1530.0" width="30.4" height="32.0" rx="2" fill="#000" stroke="none"/>
<path d="M 758,1546 q -6,0 -6,-9 M 758,1546 q -6,0 -6,9" stroke-width="3"/>
<rect x="789.0" y="1521.0" width="22.0" height="45.0" fill="#fff" stroke-width="2.5" />
<rect x="789.0" y="1521.0" width="8.0" height="45.0" rx="0" fill="#000" stroke="none"/>
<path d="M 800,1524 V 1563 M 805,1530 h 5 M 805,1556 h5" stroke-width="2"/>
<path d="M 805.7,1513 Q 840,1498 877.7,1497.5" stroke-width="2"/>
<path d="M 811,1521.8 H 877.7 M 811,1565.6 H 877.7" stroke-width="2"/>
<path d="M 831.6,1525.8 Q 850,1534 877.7,1535" stroke-width="2"/>
<path d="M 811,1521.8 Q 815,1516 823,1516 Q 830,1518 831.6,1525.8" stroke-width="2"/>
<path d="M 823,1529 A 14 15.5 0 0 1 823,1559" stroke-width="4"/>
<path d="M 823,1526 A 17.5 18.5 0 0 1 823,1562" stroke-width="1.6"/>
<path d="M 811,1537 H 833 M 811,1541.5 H 835 M 811,1549 H 835 M 811,1553.5 H 833" stroke-width="2"/>
<path d="M 811,1535.8 H 828 M 811,1557.7 H 828" stroke-width="2"/>
<path d="M 843,1536 V 1565 M 856,1560 V 1579 M 868,1536 V 1579" stroke-width="1.8"/>
<circle cx="856" cy="1541" r="1.8" fill="#000" stroke="none"/>
<path d="M 801.7,1565.6 L 811,1578 H 877.7" stroke-width="3.5"/>
<g transform="translate(1755.4,0) scale(-1,1)"><path d="M 518,1513.5 Q 560,1512 640,1513 M 530,1517 Q 600,1519 660,1523 M 520,1514 q -3,2 2,3.5" stroke-width="2"/>
<path d="M 690,1512.5 L 818,1512.5 M 700,1518 Q 720,1527 740,1522 Q 770,1517 818,1518" stroke-width="2"/>
<path d="M 453,1519 Q 456,1507 464,1506.5 Q 472,1507 475,1519 Z" fill="#000" stroke="none"/>
<rect x="460" y="1511" width="8" height="3" fill="#fff" stroke="none"/>
<rect x="441.0" y="1517.5" width="44.0" height="10.0" rx="2" fill="#000" stroke="none"/>
<rect x="443.0" y="1527.5" width="41.0" height="11.5" fill="#fff" stroke-width="2" />
<rect x="436.0" y="1539.0" width="49.0" height="16.0" rx="2" fill="#000" stroke="none"/>
<path d="M 440,1543.5 H 481 M 440,1550 H 481" stroke="#fff" stroke-width="2" stroke-dasharray="3 1.5"/>
<path d="M 446,1537 V 1554 M 476,1537 V 1554" stroke="#fff" stroke-width="1.5"/>
<rect x="455.0" y="1554.0" width="22.0" height="8.5" rx="1" fill="#000" stroke="none"/>
<rect x="485.0" y="1533.5" width="31.5" height="22.5" rx="2" fill="#000" stroke="none"/>
<path d="M 491,1540 V 1552 M 500,1540 V 1552" stroke="#fff" stroke-width="1.2" stroke-dasharray="2 2"/>
<path d="M 460.0,1562 V 1654 M 473.0,1562 V 1654" stroke-width="2.2"/>
<path d="M 459.5,1585.5 H 473.5" stroke-width="2"/>
<g transform="translate(471.5,1592) rotate(-45)"><rect x="-3" y="-5" width="28" height="10" fill="#000" stroke="none"/><path d="M 8,-3 V 3 M 14,-3 V 3 M 19,-3 V 3" stroke="#fff" stroke-width="1.5"/></g>
<rect x="458.5" y="1653.0" width="16.0" height="7.0" rx="1" fill="#000" stroke="none"/>
<rect x="458.0" y="1660.0" width="17.0" height="4.0" fill="#fff" stroke-width="2" />
<path d="M 471.5,1668 h 10 q 8,0 8,9 q 0,9 -8,9 h -10 Z" fill="#fff" stroke-width="2.5"/>
<rect x="458.5" y="1665.0" width="16.0" height="25.0" rx="1" fill="#000" stroke="none"/>
<path d="M 461.5,1672 h10 M 461.5,1680 h10 M 475.5,1670 v14 M 481.5,1670 v14" stroke="#fff" stroke-width="2"/>
<rect x="457.5" y="1689.0" width="18.0" height="11.0" fill="#fff" stroke-width="2.5" />
<path d="M 460.5,1694.5 h12" stroke-width="2"/>
<rect x="462.5" y="1699.0" width="8.0" height="4.0" rx="0" fill="#000" stroke="none"/>
<path d="M 516,1536 H 645 M 516,1555 H 645" stroke-width="2.2"/>
<rect x="651.0" y="1509.0" width="40.0" height="17.0" rx="2" fill="#000" stroke="none"/>
<path d="M 656,1513.5 h6 M 665,1513.5 h4 M 672,1513.5 h5 M 680,1513.5 h6 M 654,1519.5 h7 M 664,1519.5 h6 M 673,1519.5 h6 M 682,1519.5 h6" stroke="#fff" stroke-width="3"/>
<rect x="648.0" y="1524.0" width="46.0" height="4.0" rx="1" fill="#000" stroke="none"/>
<rect x="651.0" y="1526.0" width="40.0" height="11.0" fill="#fff" stroke-width="2" />
<rect x="645.0" y="1536.5" width="62.0" height="25.5" rx="3" fill="#000" stroke="none"/>
<path d="M 647,1543.5 H 688 M 647,1550 H 688" stroke="#fff" stroke-width="2" stroke-dasharray="3 1.5"/>
<path d="M 653,1537 V 1554 M 683,1537 V 1554" stroke="#fff" stroke-width="1.5"/>
<rect x="662.0" y="1554.0" width="22.0" height="8.5" rx="1" fill="#000" stroke="none"/>
<path d="M 665.0,1562 V 1654 M 678.0,1562 V 1654" stroke-width="2.2"/>
<path d="M 664.5,1585.5 H 678.5" stroke-width="2"/>
<g transform="translate(676.5,1592) rotate(-45)"><rect x="-3" y="-5" width="28" height="10" fill="#000" stroke="none"/><path d="M 8,-3 V 3 M 14,-3 V 3 M 19,-3 V 3" stroke="#fff" stroke-width="1.5"/></g>
<rect x="663.5" y="1653.0" width="16.0" height="7.0" rx="1" fill="#000" stroke="none"/>
<rect x="663.0" y="1660.0" width="17.0" height="4.0" fill="#fff" stroke-width="2" />
<path d="M 676.5,1668 h 10 q 8,0 8,9 q 0,9 -8,9 h -10 Z" fill="#fff" stroke-width="2.5"/>
<rect x="663.5" y="1665.0" width="16.0" height="25.0" rx="1" fill="#000" stroke="none"/>
<path d="M 666.5,1672 h10 M 666.5,1680 h10 M 680.5,1670 v14 M 686.5,1670 v14" stroke="#fff" stroke-width="2"/>
<rect x="662.5" y="1689.0" width="18.0" height="11.0" fill="#fff" stroke-width="2.5" />
<path d="M 665.5,1694.5 h12" stroke-width="2"/>
<rect x="667.5" y="1699.0" width="8.0" height="4.0" rx="0" fill="#000" stroke="none"/>
<path d="M 706,1535 H 760 M 706,1557.5 H 760" stroke-width="3"/>
<rect x="758.6" y="1530.0" width="30.4" height="32.0" rx="2" fill="#000" stroke="none"/>
<path d="M 758,1546 q -6,0 -6,-9 M 758,1546 q -6,0 -6,9" stroke-width="3"/>
<rect x="789.0" y="1521.0" width="22.0" height="45.0" fill="#fff" stroke-width="2.5" />
<rect x="789.0" y="1521.0" width="8.0" height="45.0" rx="0" fill="#000" stroke="none"/>
<path d="M 800,1524 V 1563 M 805,1530 h 5 M 805,1556 h5" stroke-width="2"/>
<path d="M 805.7,1513 Q 840,1498 877.7,1497.5" stroke-width="2"/>
<path d="M 811,1521.8 H 877.7 M 811,1565.6 H 877.7" stroke-width="2"/>
<path d="M 831.6,1525.8 Q 850,1534 877.7,1535" stroke-width="2"/>
<path d="M 811,1521.8 Q 815,1516 823,1516 Q 830,1518 831.6,1525.8" stroke-width="2"/>
<path d="M 823,1529 A 14 15.5 0 0 1 823,1559" stroke-width="4"/>
<path d="M 823,1526 A 17.5 18.5 0 0 1 823,1562" stroke-width="1.6"/>
<path d="M 811,1537 H 833 M 811,1541.5 H 835 M 811,1549 H 835 M 811,1553.5 H 833" stroke-width="2"/>
<path d="M 811,1535.8 H 828 M 811,1557.7 H 828" stroke-width="2"/>
<path d="M 843,1536 V 1565 M 856,1560 V 1579 M 868,1536 V 1579" stroke-width="1.8"/>
<circle cx="856" cy="1541" r="1.8" fill="#000" stroke="none"/>
<path d="M 801.7,1565.6 L 811,1578 H 877.7" stroke-width="3.5"/></g>
<g transform="translate(877.7,1792.2) scale(0.7517) translate(-2203,-1682.5)"><path d="M 2101.5,1382 L 2012,1636 M 2115,1392 L 2029,1641" stroke-width="2"/>
<path d="M 2112,1393 L 2122,1402 L 2121,1420 L 2117,1440 L 2108,1452 M 2126,1395 V 1432" stroke-width="2.2"/>
<path d="M 2112,1420 L 2106,1437 L 2114,1438 L 2118,1425 Z" fill="#000" stroke="none"/>
<path d="M 2094,1398 l -2,6 M 2089,1414 l -3,7 M 2082,1430 l -2,6" stroke-width="3.5"/>
<path d="M 2066,1476 L 2084,1482 L 2076,1502 L 2058,1496 Z" fill="#fff" stroke-width="2.2"/>
<circle cx="2063" cy="1479" r="2" fill="#000" stroke="none"/><circle cx="2058" cy="1492" r="2" fill="#000" stroke="none"/>
<path d="M 2008,1636 L 2014,1633 L 2031,1639 L 2028,1652 L 2007,1650 Z" fill="#000" stroke="none"/>
<path d="M 2012,1640 l 14,4 M 2011,1646 l 14,4" stroke="#fff" stroke-width="1.2"/>
<circle cx="2007.8" cy="1667.5" r="15.5" fill="#fff" stroke-width="2.2"/>
<circle cx="2007.8" cy="1667.5" r="12.2" stroke-width="1.8"/>
<path d="M 2140,1466 V 1430.7 H 2203.0" stroke-width="3.5"/>
<path d="M 2164.5,1468 V 1452 Q 2166,1440 2190,1438.6 H 2203.0" fill="#fff" stroke-width="3"/>
<path d="M 2170,1446 Q 2185,1443 2203.0,1443" stroke-width="2.5"/>
<path d="M 2164.5,1451.5 H 2203.0 M 2164.5,1467.2 H 2203.0" stroke-width="2.5"/>
<path d="M 2171,1452 V 1466 M 2178,1452 V 1466 M 2185,1452 V 1466 M 2192,1452 V 1466 M 2199,1452 V 1466" stroke-width="2"/>
<path d="M 2164.5,1467 V 1540 Q 2166,1550.3 2176,1550.3 H 2203.0" stroke-width="2.8"/>
<path d="M 2168.8,1470 V 1540" stroke-width="1.8"/>
<path d="M 2168.8,1506 Q 2178,1486 2203.0,1485 M 2168.8,1506 L 2178.8,1514.5" stroke-width="2.2"/>
<path d="M 2178.8,1549 V 1508 Q 2182,1493 2203.0,1493" stroke-width="2.5"/>
<path d="M 2203.0,1468 V 1485" stroke-width="2"/>
<path d="M 2203.0,1465.8 H 2163 M 2095.8,1465.8 H 2140 M 2098,1470 H 2163" stroke-width="2.2"/>
<path d="M 2094,1466 L 2077.9,1501.6 V 1517.4 L 2112,1546 L 2155,1587 L 2185,1597" stroke-width="2.4"/>
<path d="M 2099,1470 L 2083,1502 V 1514 L 2116,1541 L 2158,1581 L 2187,1591" stroke-width="1.8"/>
<path d="M 2093,1532 L 2113,1577 L 2141.6,1599 H 2203.0 M 2099,1530 L 2118,1572 L 2145,1593" stroke-width="2.2"/>
<path d="M 2098.6,1469 V 1529 M 2101.5,1469 V 1529" stroke-width="1.8"/>
<path d="M 2117.2,1467.2 L 2130.1,1528.8 M 2121,1467.2 L 2134,1528" stroke-width="2"/>
<path d="M 2130,1529 Q 2122,1533 2122,1546" stroke-width="2"/>
<circle cx="2155" cy="1479" r="1.8" fill="#000" stroke="none"/>
<path d="M 2148,1531 V 1562 M 2156,1536 V 1562 M 2148,1554.6 H 2203.0 M 2154,1561.7 H 2203.0" stroke-width="2.2"/>
<path d="M 2154.5,1561.7 V 1578 Q 2156,1584.6 2168,1584.6 H 2203.0 M 2161,1562 V 1578" stroke-width="2.2"/>
<g transform="translate(4406.0,0) scale(-1,1)"><path d="M 2101.5,1382 L 2012,1636 M 2115,1392 L 2029,1641" stroke-width="2"/>
<path d="M 2112,1393 L 2122,1402 L 2121,1420 L 2117,1440 L 2108,1452 M 2126,1395 V 1432" stroke-width="2.2"/>
<path d="M 2112,1420 L 2106,1437 L 2114,1438 L 2118,1425 Z" fill="#000" stroke="none"/>
<path d="M 2094,1398 l -2,6 M 2089,1414 l -3,7 M 2082,1430 l -2,6" stroke-width="3.5"/>
<path d="M 2066,1476 L 2084,1482 L 2076,1502 L 2058,1496 Z" fill="#fff" stroke-width="2.2"/>
<circle cx="2063" cy="1479" r="2" fill="#000" stroke="none"/><circle cx="2058" cy="1492" r="2" fill="#000" stroke="none"/>
<path d="M 2008,1636 L 2014,1633 L 2031,1639 L 2028,1652 L 2007,1650 Z" fill="#000" stroke="none"/>
<path d="M 2012,1640 l 14,4 M 2011,1646 l 14,4" stroke="#fff" stroke-width="1.2"/>
<circle cx="2007.8" cy="1667.5" r="15.5" fill="#fff" stroke-width="2.2"/>
<circle cx="2007.8" cy="1667.5" r="12.2" stroke-width="1.8"/>
<path d="M 2140,1466 V 1430.7 H 2203.0" stroke-width="3.5"/>
<path d="M 2164.5,1468 V 1452 Q 2166,1440 2190,1438.6 H 2203.0" fill="#fff" stroke-width="3"/>
<path d="M 2170,1446 Q 2185,1443 2203.0,1443" stroke-width="2.5"/>
<path d="M 2164.5,1451.5 H 2203.0 M 2164.5,1467.2 H 2203.0" stroke-width="2.5"/>
<path d="M 2171,1452 V 1466 M 2178,1452 V 1466 M 2185,1452 V 1466 M 2192,1452 V 1466 M 2199,1452 V 1466" stroke-width="2"/>
<path d="M 2164.5,1467 V 1540 Q 2166,1550.3 2176,1550.3 H 2203.0" stroke-width="2.8"/>
<path d="M 2168.8,1470 V 1540" stroke-width="1.8"/>
<path d="M 2168.8,1506 Q 2178,1486 2203.0,1485 M 2168.8,1506 L 2178.8,1514.5" stroke-width="2.2"/>
<path d="M 2178.8,1549 V 1508 Q 2182,1493 2203.0,1493" stroke-width="2.5"/>
<path d="M 2203.0,1468 V 1485" stroke-width="2"/>
<path d="M 2203.0,1465.8 H 2163 M 2095.8,1465.8 H 2140 M 2098,1470 H 2163" stroke-width="2.2"/>
<path d="M 2094,1466 L 2077.9,1501.6 V 1517.4 L 2112,1546 L 2155,1587 L 2185,1597" stroke-width="2.4"/>
<path d="M 2099,1470 L 2083,1502 V 1514 L 2116,1541 L 2158,1581 L 2187,1591" stroke-width="1.8"/>
<path d="M 2093,1532 L 2113,1577 L 2141.6,1599 H 2203.0 M 2099,1530 L 2118,1572 L 2145,1593" stroke-width="2.2"/>
<path d="M 2098.6,1469 V 1529 M 2101.5,1469 V 1529" stroke-width="1.8"/>
<path d="M 2117.2,1467.2 L 2130.1,1528.8 M 2121,1467.2 L 2134,1528" stroke-width="2"/>
<path d="M 2130,1529 Q 2122,1533 2122,1546" stroke-width="2"/>
<circle cx="2155" cy="1479" r="1.8" fill="#000" stroke="none"/>
<path d="M 2148,1531 V 1562 M 2156,1536 V 1562 M 2148,1554.6 H 2203.0 M 2154,1561.7 H 2203.0" stroke-width="2.2"/>
<path d="M 2154.5,1561.7 V 1578 Q 2156,1584.6 2168,1584.6 H 2203.0 M 2161,1562 V 1578" stroke-width="2.2"/></g>
<path d="M 2136,1486.6 h 10 M 2136,1496.6 h 10 M 2136,1504.5 h 10 M 2136,1512.3 h 10 M 2136,1521 h 11 M 2136,1530.2 h 10 M 2136,1540.3 h 8 M 2136,1550.3 h 7" stroke-width="2.5"/>
<path d="M 2133,1484 V 1553" stroke-width="1.5"/>
<path d="M 2190.3,1600.4 Q 2205,1587 2221.8,1600.4" stroke-width="2.5"/>
<rect x="2187.4" y="1600.4" width="32.9" height="12.9" fill="#fff" stroke-width="2.5" />
<path d="M 2193,1601 V 1613 M 2199,1601 V 1613 M 2205,1601 V 1613 M 2211,1601 V 1613 M 2216,1601 V 1613" stroke-width="2"/>
<rect x="2183.1" y="1613.3" width="37.2" height="25.7" rx="0" fill="#000" stroke="none"/>
<path d="M 2188,1617 H 2215 M 2195,1628 h 10 M 2190,1634 v3" stroke="#fff" stroke-width="2"/>
<path d="M 2184,1611 Q 2160,1606 2157.3,1617 Q 2158,1628 2184,1626" stroke-width="3.2"/>
<rect x="2224.6" y="1590.4" width="34.4" height="30.0" rx="2" fill="#000" stroke="none"/>
<circle cx="2243" cy="1606" r="5" fill="#fff" stroke="none"/>
<path d="M 2230,1595 V 1615" stroke="#fff" stroke-width="2"/>
<path d="M 2284.7,1599 L 2334.9,1523 L 2336.3,1500 M 2280,1593 L 2329,1520 L 2330,1500" stroke-width="2.2"/></g>
<path d="M 877.7,1497 V 1578" stroke-width="2"/>
<path d="M 873.7,1494 l 8,7 M 873.7,1501 l 8,-7" stroke-width="1.5"/>
<path d="M 727,1788 l 4,4 l 4,-4 M 1020,1788 l 4,4 l 4,-4" stroke-width="1.5"/>
<path d="M 2102,1315 Q 2120,1300 2140,1298 Q 2170,1288 2203.0,1287.5" stroke-width="2"/>
<path d="M 2110,1318 Q 2125,1330 2120,1340 M 2145,1298 Q 2140,1320 2136,1337" stroke-width="1.8"/>
<path d="M 2130,1327 Q 2160,1328 2203.0,1336" stroke-width="1.8"/>
<path d="M 2169,1311 q -3,2 5,3" stroke-width="1.5"/>
<path d="M 2100,1376 H 2203.0 M 2102,1383 H 2203.0" stroke-width="2"/>
<path d="M 2112,1383 L 2130,1393 H 2203.0" stroke-width="3.5"/>
<path d="M 2140,1376 L 2148,1393 M 2170,1367 V 1393 M 2180,1367 V 1393" stroke-width="1.8"/>
<rect x="2085.0" y="1376.0" width="20.0" height="16.0" fill="none" stroke-width="1.8" />
<path d="M 2101.5,1382 L 2012,1636 M 2115,1392 L 2029,1641" stroke-width="2"/>
<path d="M 2112,1393 L 2122,1402 L 2121,1420 L 2117,1440 L 2108,1452 M 2126,1395 V 1432" stroke-width="2.2"/>
<path d="M 2112,1420 L 2106,1437 L 2114,1438 L 2118,1425 Z" fill="#000" stroke="none"/>
<path d="M 2094,1398 l -2,6 M 2089,1414 l -3,7 M 2082,1430 l -2,6" stroke-width="3.5"/>
<path d="M 2066,1476 L 2084,1482 L 2076,1502 L 2058,1496 Z" fill="#fff" stroke-width="2.2"/>
<circle cx="2063" cy="1479" r="2" fill="#000" stroke="none"/><circle cx="2058" cy="1492" r="2" fill="#000" stroke="none"/>
<path d="M 2008,1636 L 2014,1633 L 2031,1639 L 2028,1652 L 2007,1650 Z" fill="#000" stroke="none"/>
<path d="M 2012,1640 l 14,4 M 2011,1646 l 14,4" stroke="#fff" stroke-width="1.2"/>
<circle cx="2007.8" cy="1667.5" r="15.5" fill="#fff" stroke-width="2.2"/>
<circle cx="2007.8" cy="1667.5" r="12.2" stroke-width="1.8"/>
<path d="M 2140,1466 V 1430.7 H 2203.0" stroke-width="3.5"/>
<path d="M 2164.5,1468 V 1452 Q 2166,1440 2190,1438.6 H 2203.0" fill="#fff" stroke-width="3"/>
<path d="M 2170,1446 Q 2185,1443 2203.0,1443" stroke-width="2.5"/>
<path d="M 2164.5,1451.5 H 2203.0 M 2164.5,1467.2 H 2203.0" stroke-width="2.5"/>
<path d="M 2171,1452 V 1466 M 2178,1452 V 1466 M 2185,1452 V 1466 M 2192,1452 V 1466 M 2199,1452 V 1466" stroke-width="2"/>
<path d="M 2164.5,1467 V 1540 Q 2166,1550.3 2176,1550.3 H 2203.0" stroke-width="2.8"/>
<path d="M 2168.8,1470 V 1540" stroke-width="1.8"/>
<path d="M 2168.8,1506 Q 2178,1486 2203.0,1485 M 2168.8,1506 L 2178.8,1514.5" stroke-width="2.2"/>
<path d="M 2178.8,1549 V 1508 Q 2182,1493 2203.0,1493" stroke-width="2.5"/>
<path d="M 2203.0,1468 V 1485" stroke-width="2"/>
<path d="M 2203.0,1465.8 H 2163 M 2095.8,1465.8 H 2140 M 2098,1470 H 2163" stroke-width="2.2"/>
<path d="M 2094,1466 L 2077.9,1501.6 V 1517.4 L 2112,1546 L 2155,1587 L 2185,1597" stroke-width="2.4"/>
<path d="M 2099,1470 L 2083,1502 V 1514 L 2116,1541 L 2158,1581 L 2187,1591" stroke-width="1.8"/>
<path d="M 2093,1532 L 2113,1577 L 2141.6,1599 H 2203.0 M 2099,1530 L 2118,1572 L 2145,1593" stroke-width="2.2"/>
<path d="M 2098.6,1469 V 1529 M 2101.5,1469 V 1529" stroke-width="1.8"/>
<path d="M 2117.2,1467.2 L 2130.1,1528.8 M 2121,1467.2 L 2134,1528" stroke-width="2"/>
<path d="M 2130,1529 Q 2122,1533 2122,1546" stroke-width="2"/>
<circle cx="2155" cy="1479" r="1.8" fill="#000" stroke="none"/>
<path d="M 2148,1531 V 1562 M 2156,1536 V 1562 M 2148,1554.6 H 2203.0 M 2154,1561.7 H 2203.0" stroke-width="2.2"/>
<path d="M 2154.5,1561.7 V 1578 Q 2156,1584.6 2168,1584.6 H 2203.0 M 2161,1562 V 1578" stroke-width="2.2"/>
<g transform="translate(4406.0,0) scale(-1,1)"><path d="M 2102,1315 Q 2120,1300 2140,1298 Q 2170,1288 2203.0,1287.5" stroke-width="2"/>
<path d="M 2110,1318 Q 2125,1330 2120,1340 M 2145,1298 Q 2140,1320 2136,1337" stroke-width="1.8"/>
<path d="M 2130,1327 Q 2160,1328 2203.0,1336" stroke-width="1.8"/>
<path d="M 2169,1311 q -3,2 5,3" stroke-width="1.5"/>
<path d="M 2100,1376 H 2203.0 M 2102,1383 H 2203.0" stroke-width="2"/>
<path d="M 2112,1383 L 2130,1393 H 2203.0" stroke-width="3.5"/>
<path d="M 2140,1376 L 2148,1393 M 2170,1367 V 1393 M 2180,1367 V 1393" stroke-width="1.8"/>
<rect x="2085.0" y="1376.0" width="20.0" height="16.0" fill="none" stroke-width="1.8" />
<path d="M 2101.5,1382 L 2012,1636 M 2115,1392 L 2029,1641" stroke-width="2"/>
<path d="M 2112,1393 L 2122,1402 L 2121,1420 L 2117,1440 L 2108,1452 M 2126,1395 V 1432" stroke-width="2.2"/>
<path d="M 2112,1420 L 2106,1437 L 2114,1438 L 2118,1425 Z" fill="#000" stroke="none"/>
<path d="M 2094,1398 l -2,6 M 2089,1414 l -3,7 M 2082,1430 l -2,6" stroke-width="3.5"/>
<path d="M 2066,1476 L 2084,1482 L 2076,1502 L 2058,1496 Z" fill="#fff" stroke-width="2.2"/>
<circle cx="2063" cy="1479" r="2" fill="#000" stroke="none"/><circle cx="2058" cy="1492" r="2" fill="#000" stroke="none"/>
<path d="M 2008,1636 L 2014,1633 L 2031,1639 L 2028,1652 L 2007,1650 Z" fill="#000" stroke="none"/>
<path d="M 2012,1640 l 14,4 M 2011,1646 l 14,4" stroke="#fff" stroke-width="1.2"/>
<circle cx="2007.8" cy="1667.5" r="15.5" fill="#fff" stroke-width="2.2"/>
<circle cx="2007.8" cy="1667.5" r="12.2" stroke-width="1.8"/>
<path d="M 2140,1466 V 1430.7 H 2203.0" stroke-width="3.5"/>
<path d="M 2164.5,1468 V 1452 Q 2166,1440 2190,1438.6 H 2203.0" fill="#fff" stroke-width="3"/>
<path d="M 2170,1446 Q 2185,1443 2203.0,1443" stroke-width="2.5"/>
<path d="M 2164.5,1451.5 H 2203.0 M 2164.5,1467.2 H 2203.0" stroke-width="2.5"/>
<path d="M 2171,1452 V 1466 M 2178,1452 V 1466 M 2185,1452 V 1466 M 2192,1452 V 1466 M 2199,1452 V 1466" stroke-width="2"/>
<path d="M 2164.5,1467 V 1540 Q 2166,1550.3 2176,1550.3 H 2203.0" stroke-width="2.8"/>
<path d="M 2168.8,1470 V 1540" stroke-width="1.8"/>
<path d="M 2168.8,1506 Q 2178,1486 2203.0,1485 M 2168.8,1506 L 2178.8,1514.5" stroke-width="2.2"/>
<path d="M 2178.8,1549 V 1508 Q 2182,1493 2203.0,1493" stroke-width="2.5"/>
<path d="M 2203.0,1468 V 1485" stroke-width="2"/>
<path d="M 2203.0,1465.8 H 2163 M 2095.8,1465.8 H 2140 M 2098,1470 H 2163" stroke-width="2.2"/>
<path d="M 2094,1466 L 2077.9,1501.6 V 1517.4 L 2112,1546 L 2155,1587 L 2185,1597" stroke-width="2.4"/>
<path d="M 2099,1470 L 2083,1502 V 1514 L 2116,1541 L 2158,1581 L 2187,1591" stroke-width="1.8"/>
<path d="M 2093,1532 L 2113,1577 L 2141.6,1599 H 2203.0 M 2099,1530 L 2118,1572 L 2145,1593" stroke-width="2.2"/>
<path d="M 2098.6,1469 V 1529 M 2101.5,1469 V 1529" stroke-width="1.8"/>
<path d="M 2117.2,1467.2 L 2130.1,1528.8 M 2121,1467.2 L 2134,1528" stroke-width="2"/>
<path d="M 2130,1529 Q 2122,1533 2122,1546" stroke-width="2"/>
<circle cx="2155" cy="1479" r="1.8" fill="#000" stroke="none"/>
<path d="M 2148,1531 V 1562 M 2156,1536 V 1562 M 2148,1554.6 H 2203.0 M 2154,1561.7 H 2203.0" stroke-width="2.2"/>
<path d="M 2154.5,1561.7 V 1578 Q 2156,1584.6 2168,1584.6 H 2203.0 M 2161,1562 V 1578" stroke-width="2.2"/></g>
<path d="M 1891,1311 L 2000,1311 M 1895,1319 Q 1915,1325 1930,1330 Q 1950,1322 1975,1316 Q 1990,1312 2000,1313" stroke-width="2"/>
<path d="M 2067,1311 H 2140 M 2067,1322 Q 2090,1323 2110,1320" stroke-width="2"/>
<rect x="1842.0" y="1304.5" width="44.0" height="17.5" rx="3" fill="#000" stroke="none"/>
<path d="M 1847,1310 h7 M 1857,1310 h4 M 1865,1310 h6 M 1875,1310 h6 M 1845,1316.5 h8 M 1856,1316.5 h8 M 1867,1316.5 h8 M 1877,1316.5 h6" stroke="#fff" stroke-width="3.5"/>
<rect x="1836.5" y="1321.5" width="55.0" height="7.0" rx="0" fill="#000" stroke="none"/>
<rect x="1837.0" y="1328.0" width="54.0" height="14.0" fill="#fff" stroke-width="2.2" />
<rect x="1832.0" y="1343.5" width="71.0" height="22.0" fill="#fff" stroke-width="2.5" />
<rect x="1832.0" y="1355.0" width="71.0" height="11.0" rx="0" fill="#000" stroke="none"/>
<path d="M 1836,1350 H 1899 M 1836,1359.5 H 1899" stroke-width="2"/>
<path d="M 1838,1359.5 H 1894" stroke="#fff" stroke-width="2" stroke-dasharray="5 2"/>
<path d="M 1842,1344 V 1365 M 1852,1344 V 1365 M 1878,1344 V 1365" stroke-width="2"/>
<rect x="1852.0" y="1363.0" width="28.0" height="13.0" rx="1" fill="#000" stroke="none"/>
<path d="M 1858.0,1376 V 1498 M 1873.0,1376 V 1498" stroke-width="2.2"/>
<path d="M 1857.5,1405.5 H 1873.5" stroke-width="2.2"/>
<g transform="translate(1872.5,1404) rotate(-50)"><rect x="-2" y="-5.5" width="28" height="11" rx="3" fill="#000" stroke="none"/><path d="M 9,-3.5 V 3.5 M 14,-3.5 V 3.5 M 19,-3.5 V 3.5" stroke="#fff" stroke-width="1.5"/></g>
<rect x="1857.5" y="1497.0" width="16.0" height="9.0" fill="#fff" stroke-width="2.2" />
<rect x="1853.5" y="1508.0" width="24.0" height="4.0" rx="0" fill="#000" stroke="none"/>
<circle cx="1865.5" cy="1522" r="12" fill="#000" stroke="none"/>
<circle cx="1865.5" cy="1522" r="8" fill="#fff" stroke="#000" stroke-width="1.5"/>
<path d="M 1860.5,1518 l 10,8 M 1860.5,1526 l 10,-8" stroke-width="1.5"/>
<path d="M 1851.5,1514 Q 1845.5,1522 1851.5,1530 M 1879.5,1514 Q 1885.5,1522 1879.5,1530" stroke-width="3"/>
<rect x="1852.5" y="1537.0" width="26.0" height="11.0" fill="#fff" stroke-width="2.5" />
<rect x="1856.5" y="1548.0" width="18.0" height="8.0" fill="#fff" stroke-width="2.2" />
<rect x="1861.5" y="1555.0" width="8.0" height="4.0" rx="0" fill="#000" stroke="none"/>
<rect x="1895.0" y="1334.5" width="106.0" height="37.5" rx="0" fill="#000" stroke="none"/>
<rect x="1906" y="1341.6" width="15" height="23.4" fill="#fff" stroke="none"/>
<path d="M 1918,1343 Q 1912,1353 1918,1364" stroke-width="2"/>
<rect x="1921.7" y="1331.5" width="24.2" height="45" rx="9" fill="#000" stroke="none"/>
<path d="M 1959,1341.6 Q 1945,1341.6 1945,1353.3 Q 1945,1365 1959,1365 H 2001 V 1341.6 Z" fill="#fff" stroke="none"/>
<path d="M 1968,1338 H 1990 M 1968,1368.5 H 1990" stroke="#fff" stroke-width="1.2"/>
<path d="M 1970,1355 l 2,-3 l 1,4" stroke-width="1.5"/>
<rect x="2012.0" y="1304.5" width="44.0" height="17.5" rx="3" fill="#000" stroke="none"/>
<path d="M 2017,1310 h7 M 2027,1310 h4 M 2035,1310 h6 M 2045,1310 h6 M 2015,1316.5 h8 M 2026,1316.5 h8 M 2037,1316.5 h8 M 2047,1316.5 h6" stroke="#fff" stroke-width="3.5"/>
<rect x="2006.5" y="1321.5" width="55.0" height="7.0" rx="0" fill="#000" stroke="none"/>
<rect x="2007.0" y="1328.0" width="54.0" height="14.0" fill="#fff" stroke-width="2.2" />
<rect x="2002.0" y="1343.5" width="71.0" height="22.0" fill="#fff" stroke-width="2.5" />
<rect x="2002.0" y="1355.0" width="71.0" height="11.0" rx="0" fill="#000" stroke="none"/>
<path d="M 2006,1350 H 2069 M 2006,1359.5 H 2069" stroke-width="2"/>
<path d="M 2008,1359.5 H 2064" stroke="#fff" stroke-width="2" stroke-dasharray="5 2"/>
<path d="M 2012,1344 V 1365 M 2022,1344 V 1365 M 2048,1344 V 1365" stroke-width="2"/>
<rect x="2022.0" y="1363.0" width="28.0" height="13.0" rx="1" fill="#000" stroke="none"/>
<path d="M 2027.2,1376 V 1498 M 2042.2,1376 V 1498" stroke-width="2.2"/>
<path d="M 2026.7,1405.5 H 2042.7" stroke-width="2.2"/>
<g transform="translate(2041.7,1404) rotate(-50)"><rect x="-2" y="-5.5" width="28" height="11" rx="3" fill="#000" stroke="none"/><path d="M 9,-3.5 V 3.5 M 14,-3.5 V 3.5 M 19,-3.5 V 3.5" stroke="#fff" stroke-width="1.5"/></g>
<g transform="translate(2027.7,1404) rotate(50)"><rect x="-26" y="-5.5" width="28" height="11" rx="3" fill="#000" stroke="none"/><path d="M -9,-3.5 V 3.5 M -14,-3.5 V 3.5 M -19,-3.5 V 3.5" stroke="#fff" stroke-width="1.5"/></g>
<rect x="2026.7" y="1497.0" width="16.0" height="9.0" fill="#fff" stroke-width="2.2" />
<rect x="2022.7" y="1508.0" width="24.0" height="4.0" rx="0" fill="#000" stroke="none"/>
<circle cx="2034.7" cy="1522" r="12" fill="#000" stroke="none"/>
<circle cx="2034.7" cy="1522" r="8" fill="#fff" stroke="#000" stroke-width="1.5"/>
<path d="M 2029.7,1518 l 10,8 M 2029.7,1526 l 10,-8" stroke-width="1.5"/>
<path d="M 2020.7,1514 Q 2014.7,1522 2020.7,1530 M 2048.7,1514 Q 2054.7,1522 2048.7,1530" stroke-width="3"/>
<rect x="2021.7" y="1537.0" width="26.0" height="11.0" fill="#fff" stroke-width="2.5" />
<rect x="2025.7" y="1548.0" width="18.0" height="8.0" fill="#fff" stroke-width="2.2" />
<rect x="2030.7" y="1555.0" width="8.0" height="4.0" rx="0" fill="#000" stroke="none"/>
<path d="M 2069,1345 L 2076,1340 L 2084,1345 V 1359 L 2076,1364 L 2069,1359 Z" fill="#fff" stroke-width="2.5"/>
<rect x="2072.0" y="1347.0" width="8.0" height="10.0" fill="none" stroke-width="2" />
<path d="M 2081,1338 H 2116 M 2081,1367 H 2116" stroke-width="2.2"/>
<path d="M 2072,1326 H 2100 M 2072,1335 H 2100 M 2075,1372 H 2100 M 2075,1380 H 2100" stroke-width="2"/>
<rect x="2115.7" y="1331.0" width="43.6" height="44.0" rx="4" fill="#000" stroke="none"/>
<path d="M 2150,1340 V 1366" stroke="#fff" stroke-width="1.2" stroke-dasharray="2 2"/>
<path d="M 2159,1337.5 H 2203.0 M 2159,1367 H 2203.0" stroke-width="2.2"/>
<path d="M 2136,1486.6 h 10 M 2136,1496.6 h 10 M 2136,1504.5 h 10 M 2136,1512.3 h 10 M 2136,1521 h 11 M 2136,1530.2 h 10 M 2136,1540.3 h 8 M 2136,1550.3 h 7" stroke-width="2.5"/>
<path d="M 2133,1484 V 1553" stroke-width="1.5"/>
<path d="M 2190.3,1600.4 Q 2205,1587 2221.8,1600.4" stroke-width="2.5"/>
<rect x="2187.4" y="1600.4" width="32.9" height="12.9" fill="#fff" stroke-width="2.5" />
<path d="M 2193,1601 V 1613 M 2199,1601 V 1613 M 2205,1601 V 1613 M 2211,1601 V 1613 M 2216,1601 V 1613" stroke-width="2"/>
<rect x="2183.1" y="1613.3" width="37.2" height="25.7" rx="0" fill="#000" stroke="none"/>
<path d="M 2188,1617 H 2215 M 2195,1628 h 10 M 2190,1634 v3" stroke="#fff" stroke-width="2"/>
<path d="M 2184,1611 Q 2160,1606 2157.3,1617 Q 2158,1628 2184,1626" stroke-width="3.2"/>
<rect x="2224.6" y="1590.4" width="34.4" height="30.0" rx="2" fill="#000" stroke="none"/>
<circle cx="2243" cy="1606" r="5" fill="#fff" stroke="none"/>
<path d="M 2230,1595 V 1615" stroke="#fff" stroke-width="2"/>
<path d="M 2284.7,1599 L 2334.9,1523 L 2336.3,1500 M 2280,1593 L 2329,1520 L 2330,1500" stroke-width="2.2"/>
<path d="M 2290,1311 H 2515 M 2395,1316 L 2455,1318 L 2520,1322" stroke-width="2"/>
<path d="M 2203.0,1341.6 H 2308 M 2203.0,1365.1 H 2308" stroke-width="3"/>
<path d="M 2255,1341 A 15.5 15.5 0 0 1 2286,1341 M 2255,1365.5 A 15.5 15.5 0 0 0 2286,1365.5" stroke-width="4"/>
<path d="M 2249,1341 A 21 21 0 0 1 2292,1341 M 2249,1365.5 A 21 21 0 0 0 2292,1365.5" stroke-width="1.8"/>
<rect x="2307.5" y="1340.5" width="111.5" height="36.5" rx="3" fill="#000" stroke="none"/>
<path d="M 2318,1347.5 H 2398 M 2318,1357 H 2408" stroke="#fff" stroke-width="3.5"/>
<path d="M 2316,1366 H 2340 M 2352,1366 H 2400" stroke="#fff" stroke-width="1.5"/>
<path d="M 2400,1346 Q 2410,1353 2405,1364" stroke="#fff" stroke-width="1.5"/>
<rect x="2339.7" y="1303.4" width="54.2" height="21.1" rx="3" fill="#000" stroke="none"/>
<path d="M 2352,1310 h6 M 2362,1310 h4 M 2370,1310 h7 M 2381,1310 h5 M 2345,1318 H 2388" stroke="#fff" stroke-width="2.5"/>
<rect x="2340.0" y="1324.2" width="66.5" height="16.3" fill="#fff" stroke-width="2.5" />
<path d="M 2408,1340 Q 2418,1333 2440,1334.5 Q 2462,1331 2490,1335 Q 2513,1337 2513,1354 Q 2513,1373 2490,1374 Q 2462,1377 2440,1374 Q 2418,1376 2408,1368 Z" fill="#000" stroke="none"/>
<path d="M 2414,1338.6 H 2502 Q 2511,1345 2510,1352 Q 2511,1360 2502,1367 H 2414 Z" fill="#fff" stroke-width="2"/>
<rect x="2518.4" y="1303.4" width="48.7" height="21.1" rx="3" fill="#000" stroke="none"/>
<path d="M 2530,1310 h6 M 2540,1310 h4 M 2548,1310 h7 M 2525,1318 H 2560" stroke="#fff" stroke-width="2.5"/>
<rect x="2515.0" y="1324.2" width="54.0" height="16.3" fill="#fff" stroke-width="2.5" />
<rect x="2513.0" y="1340.4" width="61.4" height="28.9" rx="2" fill="#000" stroke="none"/>
<path d="M 2520,1349 H 2568 M 2520,1356 H 2568 M 2533,1344 V 1366 M 2556,1344 V 1366" stroke="#fff" stroke-width="2"/>
<path d="M 2360.2,1376 V 1498 M 2375.2,1376 V 1498" stroke-width="2.2"/>
<path d="M 2359.7,1405.5 H 2375.7" stroke-width="2.2"/>
<g transform="translate(2374.7,1404) rotate(-50)"><rect x="-2" y="-5.5" width="28" height="11" rx="3" fill="#000" stroke="none"/><path d="M 9,-3.5 V 3.5 M 14,-3.5 V 3.5 M 19,-3.5 V 3.5" stroke="#fff" stroke-width="1.5"/></g>
<rect x="2359.7" y="1497.0" width="16.0" height="9.0" fill="#fff" stroke-width="2.2" />
<rect x="2355.7" y="1508.0" width="24.0" height="4.0" rx="0" fill="#000" stroke="none"/>
<circle cx="2367.7" cy="1522" r="12" fill="#000" stroke="none"/>
<circle cx="2367.7" cy="1522" r="8" fill="#fff" stroke="#000" stroke-width="1.5"/>
<path d="M 2362.7,1518 l 10,8 M 2362.7,1526 l 10,-8" stroke-width="1.5"/>
<path d="M 2353.7,1514 Q 2347.7,1522 2353.7,1530 M 2381.7,1514 Q 2387.7,1522 2381.7,1530" stroke-width="3"/>
<rect x="2354.7" y="1537.0" width="26.0" height="11.0" fill="#fff" stroke-width="2.5" />
<rect x="2358.7" y="1548.0" width="18.0" height="8.0" fill="#fff" stroke-width="2.2" />
<rect x="2363.7" y="1555.0" width="8.0" height="4.0" rx="0" fill="#000" stroke="none"/>
<path d="M 2285,1381 L 2309,1385 L 2309,1405 L 2290,1405 Z" fill="#000" stroke="none"/>
<path d="M 2311,1383 H 2325 V 1398 L 2320,1406 H 2313 L 2311,1398 Z" fill="#000" stroke="none"/>
<circle cx="2318" cy="1390" r="4" fill="#fff" stroke="#000" stroke-width="1.5"/>
<path d="M 2315,1406 L 2319,1430" stroke-width="2.5"/>
<path d="M 2203.0,1287 V 1336" stroke-width="2"/>
<path d="M 2199.0,1284 l 8,7 M 2199.0,1291 l 8,-7" stroke-width="1.5"/>
<path d="M 2394,1678 l 4,4 l 4,-4 M 2004,1678 l 4,4 l 4,-4" stroke-width="1.5"/>
</svg></body></html>
